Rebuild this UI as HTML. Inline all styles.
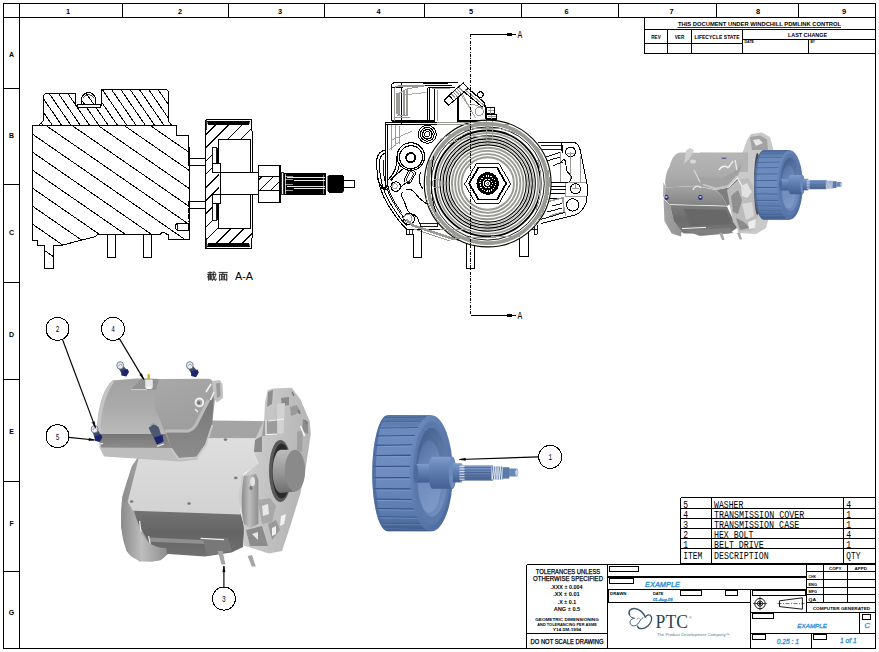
<!DOCTYPE html>
<html><head><meta charset="utf-8"><title>Drawing</title>
<style>html,body{margin:0;padding:0;background:#fff;overflow:hidden}svg{display:block}</style>
</head><body>
<svg width="879" height="652" viewBox="0 0 879 652">
<rect width="879" height="652" fill="#fff"/>
<defs></defs>
<g id="frame" shape-rendering="crispEdges">
<rect x="3.5" y="3.5" width="872" height="645" fill="none" stroke="#000" stroke-width="1" />
<line x1="19.5" y1="3.5" x2="19.5" y2="648.5" stroke="#000" stroke-width="1" />
<line x1="3.5" y1="17.5" x2="875.5" y2="17.5" stroke="#000" stroke-width="1" />
<line x1="122.5" y1="3.5" x2="122.5" y2="17.5" stroke="#000" stroke-width="1" />
<line x1="228.5" y1="3.5" x2="228.5" y2="17.5" stroke="#000" stroke-width="1" />
<line x1="324.5" y1="3.5" x2="324.5" y2="17.5" stroke="#000" stroke-width="1" />
<line x1="424.5" y1="3.5" x2="424.5" y2="17.5" stroke="#000" stroke-width="1" />
<line x1="521.5" y1="3.5" x2="521.5" y2="17.5" stroke="#000" stroke-width="1" />
<line x1="618.5" y1="3.5" x2="618.5" y2="17.5" stroke="#000" stroke-width="1" />
<line x1="716.5" y1="3.5" x2="716.5" y2="17.5" stroke="#000" stroke-width="1" />
<line x1="798.5" y1="3.5" x2="798.5" y2="17.5" stroke="#000" stroke-width="1" />
<line x1="3.5" y1="88.5" x2="19.5" y2="88.5" stroke="#000" stroke-width="1" />
<line x1="3.5" y1="184.5" x2="19.5" y2="184.5" stroke="#000" stroke-width="1" />
<line x1="3.5" y1="282.5" x2="19.5" y2="282.5" stroke="#000" stroke-width="1" />
<line x1="3.5" y1="379.5" x2="19.5" y2="379.5" stroke="#000" stroke-width="1" />
<line x1="3.5" y1="481.5" x2="19.5" y2="481.5" stroke="#000" stroke-width="1" />
<line x1="3.5" y1="571.5" x2="19.5" y2="571.5" stroke="#000" stroke-width="1" />
</g>
<text x="68" y="14.1" font-family="Liberation Sans, sans-serif" font-size="7.4" fill="#000" text-anchor="middle" font-weight="bold" font-style="normal" >1</text>
<text x="180" y="14.1" font-family="Liberation Sans, sans-serif" font-size="7.4" fill="#000" text-anchor="middle" font-weight="bold" font-style="normal" >2</text>
<text x="280" y="14.1" font-family="Liberation Sans, sans-serif" font-size="7.4" fill="#000" text-anchor="middle" font-weight="bold" font-style="normal" >3</text>
<text x="378.5" y="14.1" font-family="Liberation Sans, sans-serif" font-size="7.4" fill="#000" text-anchor="middle" font-weight="bold" font-style="normal" >4</text>
<text x="471" y="14.1" font-family="Liberation Sans, sans-serif" font-size="7.4" fill="#000" text-anchor="middle" font-weight="bold" font-style="normal" >5</text>
<text x="566.5" y="14.1" font-family="Liberation Sans, sans-serif" font-size="7.4" fill="#000" text-anchor="middle" font-weight="bold" font-style="normal" >6</text>
<text x="671.5" y="14.1" font-family="Liberation Sans, sans-serif" font-size="7.4" fill="#000" text-anchor="middle" font-weight="bold" font-style="normal" >7</text>
<text x="758" y="14.1" font-family="Liberation Sans, sans-serif" font-size="7.4" fill="#000" text-anchor="middle" font-weight="bold" font-style="normal" >8</text>
<text x="844" y="14.1" font-family="Liberation Sans, sans-serif" font-size="7.4" fill="#000" text-anchor="middle" font-weight="bold" font-style="normal" >9</text>
<text x="11.6" y="56.6" font-family="Liberation Sans, sans-serif" font-size="7" fill="#000" text-anchor="middle" font-weight="bold" font-style="normal" >A</text>
<text x="11.6" y="138.1" font-family="Liberation Sans, sans-serif" font-size="7" fill="#000" text-anchor="middle" font-weight="bold" font-style="normal" >B</text>
<text x="11.6" y="234.6" font-family="Liberation Sans, sans-serif" font-size="7" fill="#000" text-anchor="middle" font-weight="bold" font-style="normal" >C</text>
<text x="11.6" y="337.1" font-family="Liberation Sans, sans-serif" font-size="7" fill="#000" text-anchor="middle" font-weight="bold" font-style="normal" >D</text>
<text x="11.6" y="433.6" font-family="Liberation Sans, sans-serif" font-size="7" fill="#000" text-anchor="middle" font-weight="bold" font-style="normal" >E</text>
<text x="11.6" y="526.1" font-family="Liberation Sans, sans-serif" font-size="7" fill="#000" text-anchor="middle" font-weight="bold" font-style="normal" >F</text>
<text x="11.6" y="615.1" font-family="Liberation Sans, sans-serif" font-size="7" fill="#000" text-anchor="middle" font-weight="bold" font-style="normal" >G</text>
<g id="revtable" shape-rendering="crispEdges">
<line x1="644.5" y1="17.5" x2="644.5" y2="53.5" stroke="#000" stroke-width="1" />
<line x1="644.5" y1="29.5" x2="875.5" y2="29.5" stroke="#000" stroke-width="1" />
<line x1="644.5" y1="53.5" x2="875.5" y2="53.5" stroke="#000" stroke-width="1" />
<line x1="644.5" y1="43.5" x2="742.5" y2="43.5" stroke="#000" stroke-width="1" />
<line x1="742.5" y1="39.5" x2="875.5" y2="39.5" stroke="#000" stroke-width="1" />
<line x1="667.5" y1="29.5" x2="667.5" y2="53.5" stroke="#000" stroke-width="1" />
<line x1="691.5" y1="29.5" x2="691.5" y2="53.5" stroke="#000" stroke-width="1" />
<line x1="742.5" y1="29.5" x2="742.5" y2="53.5" stroke="#000" stroke-width="1" />
<line x1="808.5" y1="39.5" x2="808.5" y2="53.5" stroke="#000" stroke-width="1" />
</g>
<text x="759.5" y="26.4" font-family="Liberation Sans, sans-serif" font-size="4.6" fill="#000" text-anchor="middle" font-weight="bold" font-style="normal" textLength="163" lengthAdjust="spacingAndGlyphs" >THIS DOCUMENT UNDER WINDCHILL PDMLINK CONTROL</text>
<line x1="677.5" y1="27.5" x2="841" y2="27.5" stroke="#000" stroke-width="0.8" />
<text x="656" y="38.6" font-family="Liberation Sans, sans-serif" font-size="4.6" fill="#000" text-anchor="middle" font-weight="bold" font-style="normal" textLength="9.5" lengthAdjust="spacingAndGlyphs" >REV</text>
<text x="679.5" y="38.6" font-family="Liberation Sans, sans-serif" font-size="4.6" fill="#000" text-anchor="middle" font-weight="bold" font-style="normal" textLength="9.5" lengthAdjust="spacingAndGlyphs" >VER</text>
<text x="717" y="38.6" font-family="Liberation Sans, sans-serif" font-size="4.6" fill="#000" text-anchor="middle" font-weight="bold" font-style="normal" textLength="45" lengthAdjust="spacingAndGlyphs" >LIFECYCLE STATE</text>
<text x="807.5" y="36.6" font-family="Liberation Sans, sans-serif" font-size="4.8" fill="#000" text-anchor="middle" font-weight="bold" font-style="normal" textLength="39" lengthAdjust="spacingAndGlyphs" >LAST CHANGE</text>
<text x="744.5" y="43.2" font-family="Liberation Sans, sans-serif" font-size="3.6" fill="#000" text-anchor="start" font-weight="bold" font-style="normal" textLength="9.5" lengthAdjust="spacingAndGlyphs" >DATE</text>
<text x="810.5" y="43.2" font-family="Liberation Sans, sans-serif" font-size="3.6" fill="#000" text-anchor="start" font-weight="bold" font-style="normal" textLength="4.5" lengthAdjust="spacingAndGlyphs" >BY</text>
<g id="bom" shape-rendering="crispEdges">
<line x1="680.5" y1="497.5" x2="680.5" y2="563.5" stroke="#000" stroke-width="1" />
<line x1="711.5" y1="497.5" x2="711.5" y2="563.5" stroke="#000" stroke-width="1" />
<line x1="843.5" y1="497.5" x2="843.5" y2="563.5" stroke="#000" stroke-width="1" />
<line x1="680.5" y1="497.5" x2="875.5" y2="497.5" stroke="#000" stroke-width="1" />
<line x1="680.5" y1="508.5" x2="875.5" y2="508.5" stroke="#000" stroke-width="1" />
<line x1="680.5" y1="518.5" x2="875.5" y2="518.5" stroke="#000" stroke-width="1" />
<line x1="680.5" y1="528.5" x2="875.5" y2="528.5" stroke="#000" stroke-width="1" />
<line x1="680.5" y1="538.5" x2="875.5" y2="538.5" stroke="#000" stroke-width="1" />
<line x1="680.5" y1="548.5" x2="875.5" y2="548.5" stroke="#000" stroke-width="1" />
<line x1="680.5" y1="563.5" x2="875.5" y2="563.5" stroke="#000" stroke-width="1" />
</g>
<g clip-path="url(#bomclip)">
<text x="683.2" y="508.3" font-family="Liberation Mono, sans-serif" font-size="8.8" fill="#000" text-anchor="start" font-weight="normal" font-style="normal" transform="translate(683.2,508.3) scale(0.92,1.18) translate(-683.2,-508.3)">5</text>
<text x="714" y="508.3" font-family="Liberation Mono, sans-serif" font-size="8.8" fill="#000" text-anchor="start" font-weight="normal" font-style="normal" textLength="31.83" lengthAdjust="spacingAndGlyphs" transform="translate(714,508.3) scale(0.92,1.18) translate(-714,-508.3)">WASHER</text>
<text x="846.3" y="508.3" font-family="Liberation Mono, sans-serif" font-size="8.8" fill="#000" text-anchor="start" font-weight="normal" font-style="normal" transform="translate(846.3,508.3) scale(0.92,1.18) translate(-846.3,-508.3)">4</text>
<text x="683.2" y="518.3" font-family="Liberation Mono, sans-serif" font-size="8.8" fill="#000" text-anchor="start" font-weight="normal" font-style="normal" transform="translate(683.2,518.3) scale(0.92,1.18) translate(-683.2,-518.3)">4</text>
<text x="714" y="518.3" font-family="Liberation Mono, sans-serif" font-size="8.8" fill="#000" text-anchor="start" font-weight="normal" font-style="normal" textLength="98.09" lengthAdjust="spacingAndGlyphs" transform="translate(714,518.3) scale(0.92,1.18) translate(-714,-518.3)">TRANSMISSION_COVER</text>
<text x="846.3" y="518.3" font-family="Liberation Mono, sans-serif" font-size="8.8" fill="#000" text-anchor="start" font-weight="normal" font-style="normal" transform="translate(846.3,518.3) scale(0.92,1.18) translate(-846.3,-518.3)">1</text>
<text x="683.2" y="528.3" font-family="Liberation Mono, sans-serif" font-size="8.8" fill="#000" text-anchor="start" font-weight="normal" font-style="normal" transform="translate(683.2,528.3) scale(0.92,1.18) translate(-683.2,-528.3)">3</text>
<text x="714" y="528.3" font-family="Liberation Mono, sans-serif" font-size="8.8" fill="#000" text-anchor="start" font-weight="normal" font-style="normal" textLength="92.57" lengthAdjust="spacingAndGlyphs" transform="translate(714,528.3) scale(0.92,1.18) translate(-714,-528.3)">TRANSMISSION_CASE</text>
<text x="846.3" y="528.3" font-family="Liberation Mono, sans-serif" font-size="8.8" fill="#000" text-anchor="start" font-weight="normal" font-style="normal" transform="translate(846.3,528.3) scale(0.92,1.18) translate(-846.3,-528.3)">1</text>
<text x="683.2" y="538.3" font-family="Liberation Mono, sans-serif" font-size="8.8" fill="#000" text-anchor="start" font-weight="normal" font-style="normal" transform="translate(683.2,538.3) scale(0.92,1.18) translate(-683.2,-538.3)">2</text>
<text x="714" y="538.3" font-family="Liberation Mono, sans-serif" font-size="8.8" fill="#000" text-anchor="start" font-weight="normal" font-style="normal" textLength="42.87" lengthAdjust="spacingAndGlyphs" transform="translate(714,538.3) scale(0.92,1.18) translate(-714,-538.3)">HEX BOLT</text>
<text x="846.3" y="538.3" font-family="Liberation Mono, sans-serif" font-size="8.8" fill="#000" text-anchor="start" font-weight="normal" font-style="normal" transform="translate(846.3,538.3) scale(0.92,1.18) translate(-846.3,-538.3)">4</text>
<text x="683.2" y="548.3" font-family="Liberation Mono, sans-serif" font-size="8.8" fill="#000" text-anchor="start" font-weight="normal" font-style="normal" transform="translate(683.2,548.3) scale(0.92,1.18) translate(-683.2,-548.3)">1</text>
<text x="714" y="548.3" font-family="Liberation Mono, sans-serif" font-size="8.8" fill="#000" text-anchor="start" font-weight="normal" font-style="normal" textLength="53.91" lengthAdjust="spacingAndGlyphs" transform="translate(714,548.3) scale(0.92,1.18) translate(-714,-548.3)">BELT DRIVE</text>
<text x="846.3" y="548.3" font-family="Liberation Mono, sans-serif" font-size="8.8" fill="#000" text-anchor="start" font-weight="normal" font-style="normal" transform="translate(846.3,548.3) scale(0.92,1.18) translate(-846.3,-548.3)">1</text>
</g>
<text x="683.2" y="559.3" font-family="Liberation Mono, sans-serif" font-size="8.8" fill="#000" text-anchor="start" font-weight="normal" font-style="normal" textLength="20.78" lengthAdjust="spacingAndGlyphs" transform="translate(683.2,559.3) scale(0.92,1.18) translate(-683.2,-559.3)">ITEM</text>
<text x="714" y="559.3" font-family="Liberation Mono, sans-serif" font-size="8.8" fill="#000" text-anchor="start" font-weight="normal" font-style="normal" textLength="59.43" lengthAdjust="spacingAndGlyphs" transform="translate(714,559.3) scale(0.92,1.18) translate(-714,-559.3)">DESCRIPTION</text>
<text x="846.3" y="559.3" font-family="Liberation Mono, sans-serif" font-size="8.8" fill="#000" text-anchor="start" font-weight="normal" font-style="normal" textLength="15.26" lengthAdjust="spacingAndGlyphs" transform="translate(846.3,559.3) scale(0.92,1.18) translate(-846.3,-559.3)">QTY</text>
<g id="titleblock" shape-rendering="crispEdges">
<line x1="526.5" y1="564.5" x2="875.5" y2="564.5" stroke="#000" stroke-width="1" />
<line x1="526.5" y1="564.5" x2="526.5" y2="648.5" stroke="#000" stroke-width="1" />
<line x1="607.5" y1="564.5" x2="607.5" y2="648.5" stroke="#000" stroke-width="1" />
<line x1="526.5" y1="633.5" x2="607.5" y2="633.5" stroke="#000" stroke-width="1" />
<line x1="607.5" y1="577" x2="807" y2="577" stroke="#000" stroke-width="2" />
<line x1="607.5" y1="589.5" x2="807" y2="589.5" stroke="#000" stroke-width="1" />
<line x1="607.5" y1="602.5" x2="750.5" y2="602.5" stroke="#000" stroke-width="1" />
<line x1="607.5" y1="602.3" x2="750.5" y2="602.3" stroke="#000" stroke-width="1.6" />
<line x1="750.5" y1="589.5" x2="750.5" y2="648.5" stroke="#000" stroke-width="1" />
<line x1="806.5" y1="564.5" x2="806.5" y2="612.5" stroke="#000" stroke-width="1" />
<line x1="608" y1="589.5" x2="608" y2="602.5" stroke="#000" stroke-width="2" />
<line x1="750.5" y1="612.5" x2="875.5" y2="612.5" stroke="#000" stroke-width="1" />
<line x1="750.5" y1="633.5" x2="875.5" y2="633.5" stroke="#000" stroke-width="1" />
<line x1="859.5" y1="612.5" x2="859.5" y2="633.5" stroke="#000" stroke-width="1" />
<line x1="811.5" y1="633.5" x2="811.5" y2="648.5" stroke="#000" stroke-width="1" />
<line x1="823.5" y1="564.5" x2="823.5" y2="602.5" stroke="#000" stroke-width="1" />
<line x1="847.5" y1="564.5" x2="847.5" y2="602.5" stroke="#000" stroke-width="1" />
<line x1="806.5" y1="571.5" x2="875.5" y2="571.5" stroke="#000" stroke-width="1" />
<line x1="806.5" y1="579.5" x2="875.5" y2="579.5" stroke="#000" stroke-width="1" />
<line x1="806.5" y1="587.5" x2="875.5" y2="587.5" stroke="#000" stroke-width="1" />
<line x1="806.5" y1="594.5" x2="875.5" y2="594.5" stroke="#000" stroke-width="1" />
<line x1="806.5" y1="602.5" x2="875.5" y2="602.5" stroke="#000" stroke-width="1" />
</g>
<rect x="609.5" y="566.5" width="29" height="5" fill="none" stroke="#000" stroke-width="1" shape-rendering="crispEdges"/>
<rect x="609.5" y="578.5" width="24" height="5" fill="none" stroke="#000" stroke-width="1" shape-rendering="crispEdges"/>
<rect x="680.5" y="590.5" width="21" height="5" fill="none" stroke="#000" stroke-width="1" shape-rendering="crispEdges"/>
<rect x="725.5" y="590.5" width="12" height="5" fill="none" stroke="#000" stroke-width="1" shape-rendering="crispEdges"/>
<rect x="752.5" y="590.5" width="53" height="5" fill="none" stroke="#000" stroke-width="1" shape-rendering="crispEdges"/>
<rect x="752.5" y="613.5" width="21" height="5" fill="none" stroke="#000" stroke-width="1" shape-rendering="crispEdges"/>
<rect x="862.5" y="614.5" width="8" height="5" fill="none" stroke="#000" stroke-width="1" shape-rendering="crispEdges"/>
<rect x="752.5" y="634.5" width="13" height="5" fill="none" stroke="#000" stroke-width="1" shape-rendering="crispEdges"/>
<rect x="813.5" y="634.5" width="13" height="5" fill="none" stroke="#000" stroke-width="1" shape-rendering="crispEdges"/>
<text x="568" y="574.4" font-family="Liberation Sans, sans-serif" font-size="6.9" fill="#000" text-anchor="middle" font-weight="normal" font-style="normal" textLength="64.5" lengthAdjust="spacingAndGlyphs" stroke="#000" stroke-width="0.25">TOLERANCES UNLESS</text>
<text x="568" y="581.2" font-family="Liberation Sans, sans-serif" font-size="6.9" fill="#000" text-anchor="middle" font-weight="normal" font-style="normal" textLength="70" lengthAdjust="spacingAndGlyphs" stroke="#000" stroke-width="0.25">OTHERWISE SPECIFIED</text>
<text x="566.5" y="589.2" font-family="Liberation Sans, sans-serif" font-size="4.6" fill="#000" text-anchor="middle" font-weight="bold" font-style="normal" textLength="32" lengthAdjust="spacingAndGlyphs" >.XXX ± 0.004</text>
<text x="566.5" y="596.4" font-family="Liberation Sans, sans-serif" font-size="4.6" fill="#000" text-anchor="middle" font-weight="bold" font-style="normal" textLength="26.5" lengthAdjust="spacingAndGlyphs" >.XX ± 0.01</text>
<text x="567" y="604" font-family="Liberation Sans, sans-serif" font-size="4.6" fill="#000" text-anchor="middle" font-weight="bold" font-style="normal" textLength="18.5" lengthAdjust="spacingAndGlyphs" >.X ± 0.1</text>
<text x="567" y="611" font-family="Liberation Sans, sans-serif" font-size="4.6" fill="#000" text-anchor="middle" font-weight="bold" font-style="normal" textLength="26.5" lengthAdjust="spacingAndGlyphs" >ANG ± 0.5</text>
<text x="567" y="621" font-family="Liberation Sans, sans-serif" font-size="4.1" fill="#000" text-anchor="middle" font-weight="bold" font-style="normal" textLength="63.5" lengthAdjust="spacingAndGlyphs" >GEOMETRIC DIMENSIONING</text>
<text x="567" y="625.9" font-family="Liberation Sans, sans-serif" font-size="4.1" fill="#000" text-anchor="middle" font-weight="bold" font-style="normal" textLength="59.5" lengthAdjust="spacingAndGlyphs" >AND TOLERANCING PER ASME</text>
<text x="567" y="631" font-family="Liberation Sans, sans-serif" font-size="4.1" fill="#000" text-anchor="middle" font-weight="bold" font-style="normal" textLength="28.5" lengthAdjust="spacingAndGlyphs" >Y14.5M-1994</text>
<text x="567" y="644.1" font-family="Liberation Sans, sans-serif" font-size="6.3" fill="#000" text-anchor="middle" font-weight="normal" font-style="normal" textLength="73" lengthAdjust="spacingAndGlyphs" stroke="#000" stroke-width="0.25">DO NOT SCALE DRAWING</text>
<text x="645" y="586.8" font-family="Liberation Sans, sans-serif" font-size="6.4" fill="#2f8fd8" text-anchor="start" font-weight="normal" font-style="italic" textLength="35" lengthAdjust="spacingAndGlyphs" stroke="#2f8fd8" stroke-width="0.3">EXAMPLE</text>
<text x="610" y="594.6" font-family="Liberation Sans, sans-serif" font-size="3.9" fill="#000" text-anchor="start" font-weight="bold" font-style="normal" textLength="16.5" lengthAdjust="spacingAndGlyphs" >DRAWN</text>
<text x="653" y="594.6" font-family="Liberation Sans, sans-serif" font-size="3.9" fill="#000" text-anchor="start" font-weight="bold" font-style="normal" textLength="10.5" lengthAdjust="spacingAndGlyphs" >DATE</text>
<text x="653" y="601.2" font-family="Liberation Sans, sans-serif" font-size="4.3" fill="#2f8fd8" text-anchor="start" font-weight="normal" font-style="italic" textLength="19.5" lengthAdjust="spacingAndGlyphs" stroke="#2f8fd8" stroke-width="0.3">01-Aug-08</text>
<text x="829" y="569.8" font-family="Liberation Sans, sans-serif" font-size="4.1" fill="#000" text-anchor="start" font-weight="bold" font-style="normal" textLength="12.5" lengthAdjust="spacingAndGlyphs" >COPY</text>
<text x="854.5" y="569.8" font-family="Liberation Sans, sans-serif" font-size="4.1" fill="#000" text-anchor="start" font-weight="bold" font-style="normal" textLength="12.5" lengthAdjust="spacingAndGlyphs" >APPD</text>
<text x="808.5" y="577.8" font-family="Liberation Sans, sans-serif" font-size="3.9" fill="#000" text-anchor="start" font-weight="bold" font-style="normal" textLength="7.5" lengthAdjust="spacingAndGlyphs" >CHK</text>
<text x="808.5" y="585.6" font-family="Liberation Sans, sans-serif" font-size="3.9" fill="#000" text-anchor="start" font-weight="bold" font-style="normal" textLength="8.5" lengthAdjust="spacingAndGlyphs" >ENG</text>
<text x="808.5" y="592.6" font-family="Liberation Sans, sans-serif" font-size="3.9" fill="#000" text-anchor="start" font-weight="bold" font-style="normal" textLength="8.5" lengthAdjust="spacingAndGlyphs" >MFG</text>
<text x="808.5" y="600.6" font-family="Liberation Sans, sans-serif" font-size="3.9" fill="#000" text-anchor="start" font-weight="bold" font-style="normal" textLength="7.5" lengthAdjust="spacingAndGlyphs" >QA</text>
<text x="812.7" y="609.8" font-family="Liberation Sans, sans-serif" font-size="4.1" fill="#000" text-anchor="start" font-weight="bold" font-style="normal" textLength="57.5" lengthAdjust="spacingAndGlyphs" >COMPUTER GENERATED</text>
<text x="797.3" y="627.6" font-family="Liberation Sans, sans-serif" font-size="6.2" fill="#2f8fd8" text-anchor="start" font-weight="normal" font-style="italic" textLength="29.7" lengthAdjust="spacingAndGlyphs" stroke="#2f8fd8" stroke-width="0.3">EXAMPLE</text>
<text x="864.5" y="627.8" font-family="Liberation Sans, sans-serif" font-size="7" fill="#2f8fd8" text-anchor="start" font-weight="normal" font-style="italic" textLength="5.5" lengthAdjust="spacingAndGlyphs" stroke="#2f8fd8" stroke-width="0.3">C</text>
<text x="776.8" y="644" font-family="Liberation Sans, sans-serif" font-size="6.4" fill="#2f8fd8" text-anchor="start" font-weight="normal" font-style="italic" textLength="22.2" lengthAdjust="spacingAndGlyphs" stroke="#2f8fd8" stroke-width="0.3">0.25 : 1</text>
<text x="839.9" y="643" font-family="Liberation Sans, sans-serif" font-size="6.4" fill="#2f8fd8" text-anchor="start" font-weight="normal" font-style="italic" textLength="16.8" lengthAdjust="spacingAndGlyphs" stroke="#2f8fd8" stroke-width="0.3">1 of 1</text>
<circle cx="760" cy="603.6" r="5.2" fill="none" stroke="#000" stroke-width="0.9" />
<circle cx="760" cy="603.6" r="2.6" fill="none" stroke="#000" stroke-width="0.9" />
<circle cx="760" cy="603.6" r="1.1" fill="#000" stroke="#000" stroke-width="0.5" />
<line x1="753" y1="603.6" x2="767" y2="603.6" stroke="#000" stroke-width="0.7" />
<line x1="760" y1="596.6" x2="760" y2="610.4" stroke="#000" stroke-width="0.7" />
<path d="M779.5,600.8 L802.4,597.8 L802.4,609.2 L779.5,606.6 Z" fill="none" stroke="#000" stroke-width="0.9" />
<line x1="777.5" y1="603.6" x2="804.5" y2="603.6" stroke="#000" stroke-width="0.6" stroke-dasharray="4 1.5 1 1.5"/>
<path d="M629.8,615.4 C627.6,611.6 630.4,608.2 634.6,608.4 C639.4,608.8 643.8,613 645.4,617.6" fill="none" stroke="#3a586c" stroke-width="1.5" />
<path d="M645.4,617.6 C646.4,614.6 649.8,613.8 651.2,616.6 C653,620.8 648.4,628 642.2,628.6 C639.6,628.8 637.6,627.4 637.4,625.6" fill="none" stroke="#3a586c" stroke-width="1.3" />
<path d="M629.8,615.4 C630.6,617.4 633,618 634.6,618.2 C631,618.6 629,621.8 630.6,624.4 C632.4,626.8 636.6,626 638.6,623 C640,620.6 641.2,618.6 643.2,617.6" fill="none" stroke="#3a586c" stroke-width="1" />
<path d="M636.8,619 C638.6,617.6 640.8,618.4 640.6,620.4" fill="none" stroke="#7f97a8" stroke-width="0.8" />
<text x="655.6" y="628.3" font-family="Liberation Serif, sans-serif" font-size="19" fill="#2c4454" text-anchor="start" font-weight="normal" font-style="normal" textLength="32.3" lengthAdjust="spacingAndGlyphs" >PTC</text>
<text x="689.2" y="618.8" font-family="Liberation Sans, sans-serif" font-size="3.2" fill="#2c4454" text-anchor="start" font-weight="normal" font-style="normal" >®</text>
<text x="656.9" y="636.2" font-family="Liberation Sans, sans-serif" font-size="3.7" fill="#5a7a92" text-anchor="start" font-weight="normal" font-style="normal" textLength="73" lengthAdjust="spacingAndGlyphs" >The Product Development Company™</text>
<g id="section" stroke-linejoin="miter" shape-rendering="crispEdges">
<clipPath id="hc1"><path d="M81.5,104.5 L81.5,99.6 A7,7 0 0 1 95.5,99.6 L95.5,104.5 Z"/></clipPath>
<g clip-path="url(#hc1)" stroke="#000" stroke-width="1">
<line x1="75.37" y1="91" x2="85.65" y2="106"/>
<line x1="84.67" y1="91" x2="94.95" y2="106"/>
<line x1="93.97" y1="91" x2="104.25" y2="106"/>
</g>
<clipPath id="hc2"><path d="M43.5,120.2 L43.5,97 Q43.5,93.5 47.2,93.5 L75.5,93.5 L75.5,105.5 L101.5,105.5 L101.5,89.5 L164.8,89.5 Q168.5,89.5 168.5,93 L168.5,121.5 L172,125.5 L38.7,125.5 Z"/></clipPath>
<g clip-path="url(#hc2)" stroke="#000" stroke-width="1">
<line x1="17.52" y1="88" x2="44.23" y2="127"/>
<line x1="26.82" y1="88" x2="53.53" y2="127"/>
<line x1="36.12" y1="88" x2="62.83" y2="127"/>
<line x1="45.42" y1="88" x2="72.13" y2="127"/>
<line x1="54.72" y1="88" x2="81.43" y2="127"/>
<line x1="64.02" y1="88" x2="90.73" y2="127"/>
<line x1="73.32" y1="88" x2="100.03" y2="127"/>
<line x1="82.62" y1="88" x2="109.33" y2="127"/>
<line x1="91.92" y1="88" x2="118.63" y2="127"/>
<line x1="101.22" y1="88" x2="127.93" y2="127"/>
<line x1="110.52" y1="88" x2="137.23" y2="127"/>
<line x1="119.82" y1="88" x2="146.53" y2="127"/>
<line x1="129.12" y1="88" x2="155.83" y2="127"/>
<line x1="138.42" y1="88" x2="165.13" y2="127"/>
<line x1="147.72" y1="88" x2="174.43" y2="127"/>
<line x1="157.02" y1="88" x2="183.73" y2="127"/>
<line x1="166.32" y1="88" x2="193.03" y2="127"/>
</g>
<path d="M43.5,120.2 L43.5,97 Q43.5,93.5 47.2,93.5 L75.5,93.5 L75.5,105.5 L101.5,105.5 L101.5,89.5 L164.8,89.5 Q168.5,89.5 168.5,93 L168.5,121.5 L172,125.5 L38.7,125.5 Z" fill="none" stroke="#000" stroke-width="1" />
<path d="M81.5,104.5 L81.5,99.6 A7,7 0 0 1 95.5,99.6 L95.5,104.5" fill="none" stroke="#000" stroke-width="1" />
<path d="M83.6,98 A5.4,5.4 0 0 1 93.6,98" fill="none" stroke="#000" stroke-width="0.7" />
<rect x="77" y="104.6" width="23.6" height="2.6" fill="#fff" stroke="#000" stroke-width="1" />
<clipPath id="hc3"><path d="M32.5,125.5 L176.5,125.5 L176.5,135.5 L188.5,135.5 L188.5,147.5 L189.5,147.5 L189.5,239.5 L168.5,239.5 L168.5,234 L166.5,234 Q163.5,230.6 160.5,234 L159,234.5 L97.3,234.5 L95.8,236.5 L60.8,245.5 L53.5,245.5 L53.5,268.5 L44.5,268.5 L44.5,245.5 L37,245.5 L37,240.5 L32.5,240.5 Z"/></clipPath>
<g clip-path="url(#hc3)" stroke="#000" stroke-width="1">
<line x1="-164.57" y1="124" x2="46.72" y2="270"/>
<line x1="-138.52" y1="124" x2="72.77" y2="270"/>
<line x1="-112.47" y1="124" x2="98.82" y2="270"/>
<line x1="-86.42" y1="124" x2="124.87" y2="270"/>
<line x1="-60.37" y1="124" x2="150.92" y2="270"/>
<line x1="-34.32" y1="124" x2="176.97" y2="270"/>
<line x1="-8.27" y1="124" x2="203.02" y2="270"/>
<line x1="17.78" y1="124" x2="229.07" y2="270"/>
<line x1="43.83" y1="124" x2="255.12" y2="270"/>
<line x1="69.88" y1="124" x2="281.17" y2="270"/>
<line x1="95.93" y1="124" x2="307.22" y2="270"/>
<line x1="121.98" y1="124" x2="333.27" y2="270"/>
<line x1="148.03" y1="124" x2="359.32" y2="270"/>
<line x1="174.08" y1="124" x2="385.37" y2="270"/>
</g>
<path d="M32.5,125.5 L176.5,125.5 L176.5,135.5 L188.5,135.5 L188.5,147.5 L189.5,147.5 L189.5,239.5 L168.5,239.5 L168.5,234 L166.5,234 Q163.5,230.6 160.5,234 L159,234.5 L97.3,234.5 L95.8,236.5 L60.8,245.5 L53.5,245.5 L53.5,268.5 L44.5,268.5 L44.5,245.5 L37,245.5 L37,240.5 L32.5,240.5 Z" fill="none" stroke="#000" stroke-width="1" />
<rect x="189.5" y="158.5" width="16" height="7" fill="#fff" stroke="none" stroke-width="1" />
<rect x="189.5" y="201.5" width="16" height="7" fill="#fff" stroke="none" stroke-width="1" />
<line x1="188" y1="158.5" x2="205.5" y2="158.5" stroke="#000" stroke-width="1" />
<line x1="189.5" y1="165.5" x2="205.5" y2="165.5" stroke="#000" stroke-width="1" />
<line x1="187.5" y1="201.5" x2="205.5" y2="201.5" stroke="#000" stroke-width="1" />
<line x1="189.5" y1="208.5" x2="205.5" y2="208.5" stroke="#000" stroke-width="1" />
<line x1="189.2" y1="148" x2="189.2" y2="166" stroke="#000" stroke-width="1.7" />
<line x1="189.2" y1="201" x2="189.2" y2="222" stroke="#000" stroke-width="1.7" stroke-dasharray="5 1.5"/>
<path d="M188.5,223.5 L177.5,223.5 Q175.5,223.5 175.5,226.8 Q175.5,230.2 177.5,230.2 L188.5,230.2 Z" fill="#fff" stroke="#000" stroke-width="1" />
<line x1="177.5" y1="224" x2="177.5" y2="230" stroke="#000" stroke-width="0.9" />
<path d="M107.5,234.5 L107.5,257.5 L115.5,257.5 L115.5,234.5" fill="#fff" stroke="#000" stroke-width="1" />
<path d="M143.5,234.5 L143.5,257.5 L151.5,257.5 L151.5,234.5" fill="#fff" stroke="#000" stroke-width="1" />
<clipPath id="hc4"><path d="M205.5,124.8 L251.5,124.8 L251.5,130 L252,130 L252,139.5 L218.5,139.5 L218.5,147.5 L212.5,147.5 L212.5,172.5 L220.5,172.5 L220.5,194.5 L212.5,194.5 L212.5,220 L218.5,220 L218.5,228.5 L252,228.5 L252,243.4 L205.5,243.4 Z"/></clipPath>
<g clip-path="url(#hc4)" stroke="#000" stroke-width="1">
<line x1="209.3" y1="118" x2="77.3" y2="250"/>
<line x1="222.5" y1="118" x2="90.5" y2="250"/>
<line x1="235.7" y1="118" x2="103.7" y2="250"/>
<line x1="248.9" y1="118" x2="116.9" y2="250"/>
<line x1="262.1" y1="118" x2="130.1" y2="250"/>
<line x1="275.3" y1="118" x2="143.3" y2="250"/>
<line x1="288.5" y1="118" x2="156.5" y2="250"/>
<line x1="301.7" y1="118" x2="169.7" y2="250"/>
<line x1="314.9" y1="118" x2="182.9" y2="250"/>
<line x1="328.1" y1="118" x2="196.1" y2="250"/>
<line x1="341.3" y1="118" x2="209.3" y2="250"/>
<line x1="354.5" y1="118" x2="222.5" y2="250"/>
<line x1="367.7" y1="118" x2="235.7" y2="250"/>
<line x1="380.9" y1="118" x2="248.9" y2="250"/>
</g>
<path d="M205.5,119.5 L205.5,248.5" fill="none" stroke="#000" stroke-width="1" />
<path d="M205.5,119.5 L251.5,119.5 L251.5,130.5 M252,130.5 L252,237.5 M251.5,237.5 L251.5,248.5 L205.5,248.5" fill="none" stroke="#000" stroke-width="1" />
<path d="M207,121 L250,121 L248.5,124.8 L208.5,124.8 Z" fill="#000" stroke="#000" stroke-width="0.5" />
<path d="M207,246.6 L250,246.6 L248.5,243.4 L208.5,243.4 Z" fill="#000" stroke="#000" stroke-width="0.5" />
<line x1="206.5" y1="119.5" x2="206.5" y2="130" stroke="#000" stroke-width="0.8" />
<line x1="206.5" y1="238" x2="206.5" y2="248.5" stroke="#000" stroke-width="0.8" />
<path d="M218.5,147.5 L218.5,139.5 L250.2,139.5 L250.2,228.5 L218.5,228.5 L218.5,220" fill="#fff" stroke="#000" stroke-width="1" />
<line x1="218.5" y1="139.5" x2="218.5" y2="172.5" stroke="#000" stroke-width="1" />
<line x1="218.5" y1="194.5" x2="218.5" y2="228.5" stroke="#000" stroke-width="1" />
<line x1="250.5" y1="139.5" x2="250.5" y2="228.5" stroke="#000" stroke-width="1" />
<rect x="212.5" y="147.5" width="3.5" height="16" fill="#fff" stroke="#000" stroke-width="0.9" />
<rect x="212.5" y="203.5" width="3.5" height="16.5" fill="#fff" stroke="#000" stroke-width="0.9" />
<line x1="217.4" y1="147.5" x2="217.4" y2="163.5" stroke="#000" stroke-width="1.4" />
<line x1="217.4" y1="203.5" x2="217.4" y2="220" stroke="#000" stroke-width="1.4" />
<rect x="212.5" y="163.5" width="8" height="9" fill="#fff" stroke="#000" stroke-width="1" />
<rect x="212.5" y="194.5" width="8" height="9" fill="#fff" stroke="#000" stroke-width="1" />
<rect x="220.5" y="172.5" width="37.5" height="22" fill="#fff" stroke="#000" stroke-width="1" />
<rect x="258" y="165.5" width="22" height="37" fill="#fff" stroke="#000" stroke-width="1" />
<clipPath id="hc5"><path d="M258,176.5 L280,176.5 L280,190.7 L258,190.7 Z"/></clipPath>
<g clip-path="url(#hc5)" stroke="#000" stroke-width="1">
<line x1="262.6" y1="176" x2="247.6" y2="191"/>
<line x1="273.9" y1="176" x2="258.9" y2="191"/>
<line x1="285.2" y1="176" x2="270.2" y2="191"/>
<line x1="296.5" y1="176" x2="281.5" y2="191"/>
</g>
<line x1="258" y1="176.5" x2="280" y2="176.5" stroke="#000" stroke-width="1" />
<line x1="258" y1="190.7" x2="280" y2="190.7" stroke="#000" stroke-width="1" />
<line x1="280" y1="166" x2="280" y2="202.5" stroke="#000" stroke-width="2" />
<rect x="281" y="172.5" width="2.8" height="21.5" fill="#fff" stroke="#000" stroke-width="0.8" />
<rect x="284.4" y="173.2" width="41.3" height="21.4" fill="#000" stroke="#000" stroke-width="0.6" />
<line x1="286.5" y1="177.6" x2="324.5" y2="177.6" stroke="#fff" stroke-width="0.9" />
<line x1="293.5" y1="180.7" x2="324.5" y2="180.7" stroke="#fff" stroke-width="0.9" />
<line x1="286.5" y1="186" x2="324.5" y2="186" stroke="#fff" stroke-width="0.9" />
<line x1="293.5" y1="188.6" x2="324.5" y2="188.6" stroke="#fff" stroke-width="0.9" />
<line x1="285.4" y1="176.2" x2="292.5" y2="176.2" stroke="#fff" stroke-width="0.6" />
<line x1="285.4" y1="179.3" x2="292.5" y2="179.3" stroke="#fff" stroke-width="0.6" />
<line x1="285.4" y1="184.6" x2="292.5" y2="184.6" stroke="#fff" stroke-width="0.6" />
<line x1="285.4" y1="190.2" x2="292.5" y2="190.2" stroke="#fff" stroke-width="0.6" />
<line x1="285.6" y1="174" x2="285.6" y2="194" stroke="#fff" stroke-width="0.7" />
<line x1="323.7" y1="174.5" x2="323.7" y2="193.5" stroke="#fff" stroke-width="0.5" />
<path d="M327.6,176.5 L329,175 L342.5,175 L343.9,176.5 L343.9,191 L342.5,192.5 L329,192.5 L327.6,191 Z" fill="#000" stroke="#000" stroke-width="0.5" />
<rect x="343.9" y="180.2" width="10.6" height="7" fill="#fff" stroke="#000" stroke-width="1" />
</g>
<path transform="translate(206.8,279.9) scale(0.01,-0.01)" d="M726 786C785 743 851 681 882 639L917 668C885 709 818 769 759 810ZM845 466C817 368 776 272 722 186C697 278 679 398 668 539H944V582H665C660 660 658 744 658 833H610C611 746 613 661 618 582H345V687H542V731H345V833H298V731H98V687H298V582H55V539H621C633 378 655 239 689 136C637 64 576 2 507 -44C520 -52 534 -66 543 -77C605 -34 660 20 708 83C746 -10 797 -63 863 -63C925 -63 944 -16 954 131C941 135 923 145 913 155C908 32 896 -15 866 -15C816 -15 774 36 741 129C805 225 855 337 889 452ZM356 256V172H190V256ZM321 507C341 479 362 442 373 414H204C222 445 238 478 252 510L209 521C173 431 113 343 48 282C59 277 78 262 85 255C105 275 125 299 145 325V-52H190V7H564V50H399V134H544V172H399V256H544V293H399V372H563V414H400L418 422C406 450 382 491 357 522ZM356 293H190V372H356ZM356 134V50H190V134Z" fill="#000" stroke="#000" stroke-width="34"/>
<path transform="translate(218.2,279.9) scale(0.01,-0.01)" d="M372 345H619V210H372ZM372 387V523H619V387ZM372 168H619V26H372ZM63 763V716H462C453 669 438 612 424 569H111V-75H158V-21H840V-75H889V569H473C488 613 504 667 519 716H940V763ZM158 26V523H327V26ZM840 26H665V523H840Z" fill="#000" stroke="#000" stroke-width="34"/>
<text x="235" y="280.2" font-family="Liberation Sans, sans-serif" font-size="10.4" fill="#000" text-anchor="start" font-weight="normal" font-style="normal" textLength="18" lengthAdjust="spacingAndGlyphs" >A-A</text>
<g id="front" fill="none" stroke-linecap="butt" shape-rendering="crispEdges">
<path d="M391.5,121 L391.5,86 Q391.5,82.8 395,82.8 L458,82.8" fill="none" stroke="#000" stroke-width="1.1" />
<path d="M391.5,121.2 L434.5,121.2 M457,121 L486,121" fill="none" stroke="#000" stroke-width="1.6" />
<path d="M385.5,122 L437,122 M385.5,124.6 L470,124.6" fill="none" stroke="#000" stroke-width="1" />
<line x1="401.8" y1="82.8" x2="401.8" y2="124.6" stroke="#000" stroke-width="1" />
<line x1="391.5" y1="87.7" x2="403" y2="87.7" stroke="#000" stroke-width="1" />
<line x1="423" y1="83.6" x2="448" y2="83.6" stroke="#000" stroke-width="1.2" />
<line x1="425" y1="85.3" x2="452" y2="85.3" stroke="#000" stroke-width="1.3" />
<line x1="428" y1="87.2" x2="455" y2="87.2" stroke="#000" stroke-width="1.4" />
<line x1="432" y1="88.8" x2="450" y2="88.8" stroke="#9a9a94" stroke-width="1" />
<line x1="427.4" y1="88" x2="427.4" y2="121" stroke="#000" stroke-width="1" />
<line x1="429.6" y1="88" x2="429.6" y2="121" stroke="#000" stroke-width="1.2" />
<line x1="434.3" y1="89" x2="434.3" y2="121" stroke="#000" stroke-width="1.1" />
<line x1="458.3" y1="97" x2="458.3" y2="122.5" stroke="#000" stroke-width="1.8" />
<line x1="437.5" y1="89.5" x2="437.5" y2="121" stroke="#9a9a94" stroke-width="1" />
<path d="M394.5,121 L394.5,90 Q394.5,86 399,86 L424,86" fill="none" stroke="#9a9a94" stroke-width="1.2" />
<path d="M396.6,114 L396.6,93 M399.4,115 L399.4,93 M404,116 L404,91 M407.3,116 L407.3,89" fill="none" stroke="#9a9a94" stroke-width="1.9" />
<path d="M397,115.5 L407.3,115.5 M395,117.5 L410,117.5" fill="none" stroke="#9a9a94" stroke-width="1.1" />
<path d="M407.3,89 L425,85.6 M399.6,93 L407.3,89" fill="none" stroke="#9a9a94" stroke-width="1" />
<path d="M403,95 L426,92.5" fill="none" stroke="#9a9a94" stroke-width="0.8" />
<g transform="translate(2.4,1) rotate(-41 455 92)">
<rect x="447" y="88.2" width="19" height="7.4" fill="#fff" stroke="#000" stroke-width="1" />
<line x1="450" y1="88.6" x2="450" y2="95.2" stroke="#9a9a94" stroke-width="1.1" />
<line x1="452.5" y1="88.6" x2="452.5" y2="95.2" stroke="#9a9a94" stroke-width="1.1" />
<line x1="455" y1="88.6" x2="455" y2="95.2" stroke="#9a9a94" stroke-width="1.1" />
<line x1="457.5" y1="88.6" x2="457.5" y2="95.2" stroke="#9a9a94" stroke-width="1.1" />
<line x1="460" y1="88.6" x2="460" y2="95.2" stroke="#9a9a94" stroke-width="1.1" />
<rect x="440.2" y="88.6" width="6.8" height="6.8" fill="#fff" stroke="#000" stroke-width="1.2" />
</g>
<path d="M467,87.3 L484.9,103.2 L485.6,119" fill="none" stroke="#000" stroke-width="1.1" />
<path d="M463.5,91.5 L483,107.5" fill="none" stroke="#000" stroke-width="1.1" />
<path d="M465,89.5 L484,105.5" fill="none" stroke="#9a9a94" stroke-width="1.2" />
<path d="M461,95 L470,108 L470,119 M462.5,93.5 L476,118" fill="none" stroke="#9a9a94" stroke-width="0.9" />
<circle cx="480.3" cy="94.7" r="2.9" fill="#fff" stroke="#000" stroke-width="1" />
<circle cx="479.3" cy="111.6" r="4" fill="none" stroke="#9a9a94" stroke-width="1" />
<path d="M470.5,104 L483,108" fill="none" stroke="#9a9a94" stroke-width="0.9" />
<rect x="486.2" y="107.6" width="8.4" height="6.6" fill="#fff" stroke="#000" stroke-width="1.5" />
<rect x="486.2" y="114.4" width="10" height="4.6" fill="#fff" stroke="#000" stroke-width="1.3" />
<line x1="487.5" y1="110.6" x2="493.5" y2="110.6" stroke="#9a9a94" stroke-width="1.2" />
<line x1="490.4" y1="108.4" x2="490.4" y2="113.6" stroke="#9a9a94" stroke-width="0.9" />
<line x1="488" y1="116.6" x2="495.5" y2="116.6" stroke="#9a9a94" stroke-width="1.1" />
<line x1="491.5" y1="115" x2="491.5" y2="118.5" stroke="#9a9a94" stroke-width="0.9" />
<path d="M385.6,122 L385.6,187.5" fill="none" stroke="#000" stroke-width="1.1" />
<path d="M387.6,124.6 L387.6,187" fill="none" stroke="#000" stroke-width="1" />
<path d="M391.8,124.6 L391.8,150" fill="none" stroke="#9a9a94" stroke-width="1.1" />
<path d="M395.6,124.6 L395.6,146 M399.6,126 L399.6,144" fill="none" stroke="#9a9a94" stroke-width="1" />
<path d="M391.8,140 L412,131 M389,150 L400,141" fill="none" stroke="#9a9a94" stroke-width="0.9" />
<path d="M385.6,150 C379,151 376.2,157 376.6,165 C377,178 380,192 388,205 C393,213 399,222 406.5,229" fill="none" stroke="#000" stroke-width="1" />
<path d="M385.6,153 C381.4,154 379,159 379.3,166 C379.8,178 382.6,190.5 390,203 C395,211 400,219 406.6,226" fill="none" stroke="#000" stroke-width="1" />
<path d="M384,160 C382,168 384,184 391,198 C395.6,207 400.6,214 406,220.5" fill="none" stroke="#000" stroke-width="0.9" />
<path d="M388,186 C389,192 394.4,203.4 402,213" fill="none" stroke="#000" stroke-width="0.9" />
<path d="M381.2,187.5 L386.6,189.8" fill="none" stroke="#000" stroke-width="2" />
<path d="M377.5,178.5 C378.6,183 381,186.6 385.6,188.4" fill="none" stroke="#000" stroke-width="1.2" />
<circle cx="427.3" cy="134.3" r="9" fill="none" stroke="#000" stroke-width="1" />
<circle cx="427.3" cy="134.3" r="6.9" fill="none" stroke="#000" stroke-width="1" />
<circle cx="427.3" cy="134.3" r="4.8" fill="none" stroke="#000" stroke-width="1.2" />
<circle cx="427.3" cy="134.3" r="2.7" fill="none" stroke="#000" stroke-width="0.9" />
<circle cx="410.8" cy="156.6" r="13.8" fill="none" stroke="#000" stroke-width="1.1" />
<circle cx="411" cy="157.2" r="11.5" fill="none" stroke="#000" stroke-width="1.2" />
<circle cx="410.8" cy="157.6" r="4.6" fill="none" stroke="#000" stroke-width="1.8" />
<path d="M397,157 C397.4,170 392,176 388.4,179.6" fill="none" stroke="#000" stroke-width="1" />
<path d="M399.6,163 C399,171 395,176.4 391,180.6" fill="none" stroke="#000" stroke-width="1" />
<path d="M390.4,180 C394,176 398,174 402.6,169" fill="none" stroke="#000" stroke-width="1" />
<path d="M401.6,186.6 C404,184 406,182 410,182" fill="none" stroke="#000" stroke-width="1" />
<g transform="rotate(-62 409.5 176.5)">
<rect x="402.4" y="173.2" width="14" height="7.2" fill="none" stroke="#000" stroke-width="1" rx="2.6"/>
<rect x="404" y="174.8" width="10.8" height="4" fill="none" stroke="#000" stroke-width="0.8" rx="1.6"/>
</g>
<circle cx="395.7" cy="186.6" r="4.8" fill="none" stroke="#000" stroke-width="1" />
<circle cx="394.8" cy="186.2" r="2.6" fill="none" stroke="#9a9a94" stroke-width="0.9" />
<path d="M403,192 C400,194 402,198 404,201 C407,207 406,212 411,213.6 C416.6,215 419,219 419.4,224" fill="none" stroke="#000" stroke-width="1" />
<path d="M406,190 C411,187.6 414,191 416.6,195 C419.6,199.6 423,200.6 426.6,204" fill="none" stroke="#000" stroke-width="1" />
<path d="M421,172 C418,176 418.4,184 423,189 " fill="none" stroke="#000" stroke-width="1" />
<circle cx="408.8" cy="219" r="5.6" fill="none" stroke="#000" stroke-width="1" />
<circle cx="407.8" cy="218.4" r="4" fill="none" stroke="#9a9a94" stroke-width="1" />
<path d="M406.5,229 L406.5,234.4 L414.4,234.4" fill="none" stroke="#000" stroke-width="1" />
<path d="M406.5,229.4 L440,229.4" fill="none" stroke="#000" stroke-width="1" />
<path d="M409.6,229.4 L409.6,234.4 M412,229.4 L412,234.4" fill="none" stroke="#000" stroke-width="0.8" />
<rect x="420" y="223" width="17" height="3.4" fill="#fff" stroke="#000" stroke-width="0.9" />
<path d="M406.5,219.5 L413,225.6 L452,238.6 L468,241" fill="none" stroke="#9a9a94" stroke-width="2.4" />
<path d="M414,229 L450,241" fill="none" stroke="#9a9a94" stroke-width="1.2" />
<path d="M538,142.4 L574.5,142.4 Q578.6,144 580,149.4 L587.6,187 Q588,192 586,203 Q583,211 576.5,214.6 L541,223.4" fill="none" stroke="#000" stroke-width="1" />
<path d="M541,145.4 L562,145.4 L562,151 M541.5,149 L560.5,149" fill="none" stroke="#000" stroke-width="0.9" />
<path d="M561.4,143 L562.6,152.6" fill="none" stroke="#000" stroke-width="1.8" />
<path d="M545,157.4 L560,152.4 M547,161 L561,156.6" fill="none" stroke="#000" stroke-width="0.9" />
<circle cx="570.6" cy="151.9" r="4.9" fill="none" stroke="#000" stroke-width="1" />
<line x1="570.6" y1="151.9" x2="570.6" y2="181" stroke="#9a9a94" stroke-width="1.2" />
<line x1="566.6" y1="153" x2="574.6" y2="153" stroke="#9a9a94" stroke-width="1" />
<path d="M560.6,152 L560.6,182 M580.6,156 L580.6,183" fill="none" stroke="#9a9a94" stroke-width="1.2" />
<path d="M563.6,159.4 C566.6,160 566,164 566,167 C566,172 569.6,174 571,176 C572,178.6 570,181.6 567.6,183" fill="none" stroke="#000" stroke-width="1" />
<path d="M560.6,162.4 L563.6,159.4" fill="none" stroke="#000" stroke-width="1" />
<path d="M553,165.6 L563,162" fill="none" stroke="#000" stroke-width="0.9" />
<path d="M560.6,182.6 L586,182.6" fill="none" stroke="#9a9a94" stroke-width="1.6" />
<circle cx="575.5" cy="188.8" r="5" fill="none" stroke="#000" stroke-width="1" />
<line x1="575.5" y1="184" x2="575.5" y2="189" stroke="#9a9a94" stroke-width="1" />
<line x1="572" y1="188.8" x2="579" y2="188.8" stroke="#9a9a94" stroke-width="1" />
<circle cx="572.7" cy="204.9" r="6.2" fill="none" stroke="#000" stroke-width="1" />
<path d="M565.6,183 L565.6,196 L586,196" fill="none" stroke="#9a9a94" stroke-width="1" />
<line x1="549.5" y1="182.4" x2="567.5" y2="182.4" stroke="#000" stroke-width="1" />
<line x1="549.5" y1="186.5" x2="566" y2="186.5" stroke="#000" stroke-width="1" />
<line x1="549.5" y1="189.9" x2="566" y2="189.9" stroke="#000" stroke-width="1" />
<line x1="549.5" y1="193.9" x2="565" y2="193.9" stroke="#000" stroke-width="1" />
<line x1="549.5" y1="198" x2="563" y2="198" stroke="#000" stroke-width="1" />
<path d="M549,201.4 L563.5,197.6 L563.5,212 L549.6,215.8" fill="none" stroke="#9a9a94" stroke-width="1.4" />
<path d="M552,206 L562,203.6 M547,212 L562,208" fill="none" stroke="#000" stroke-width="0.9" />
<path d="M562,198 L566,216" fill="none" stroke="#9a9a94" stroke-width="0.9" />
<path d="M541,219.4 L565,212.4" fill="none" stroke="#000" stroke-width="0.9" />
<path d="M413.5,234.4 L413.5,257 L421,257 L421,230" fill="none" stroke="#000" stroke-width="1" />
<path d="M466,244 L466,268 L474.6,268 L474.6,246" fill="none" stroke="#000" stroke-width="1" />
<path d="M519.6,229.6 L519.6,256.6 L528.8,256.6 L528.8,229.6" fill="none" stroke="#000" stroke-width="1" />
<path d="M534,226 L534,234 L537.4,234 L537.4,225" fill="none" stroke="#000" stroke-width="0.9" />
<path d="M519.6,229.6 L537,229.6" fill="none" stroke="#000" stroke-width="0.9" />
<g shape-rendering="geometricPrecision">
<circle cx="487.7" cy="183.5" r="63.4" fill="#fff" stroke="#000" stroke-width="1.1" />
<circle cx="487.7" cy="183.5" r="59.6" fill="none" stroke="#9a9a94" stroke-width="3.6" />
<circle cx="487.7" cy="183.5" r="56.6" fill="none" stroke="#000" stroke-width="0.9" />
<circle cx="487.7" cy="183.5" r="53" fill="none" stroke="#000" stroke-width="1.8" />
<circle cx="487.7" cy="183.5" r="50.4" fill="none" stroke="#9a9a94" stroke-width="1.8" />
<circle cx="487.7" cy="183.5" r="47.6" fill="none" stroke="#000" stroke-width="1.1" />
<circle cx="487.7" cy="183.5" r="44.6" fill="none" stroke="#000" stroke-width="1.1" />
<circle cx="487.7" cy="183.5" r="41.6" fill="none" stroke="#000" stroke-width="1.1" />
<circle cx="487.7" cy="183.5" r="38.6" fill="none" stroke="#000" stroke-width="1.1" />
<circle cx="487.7" cy="183.5" r="46.1" fill="none" stroke="#9a9a94" stroke-width="0.8" />
<circle cx="487.7" cy="183.5" r="43.1" fill="none" stroke="#9a9a94" stroke-width="0.8" />
<circle cx="487.7" cy="183.5" r="40.1" fill="none" stroke="#9a9a94" stroke-width="0.8" />
<circle cx="487.7" cy="183.5" r="35.8" fill="none" stroke="#9a9a94" stroke-width="1.9" />
<circle cx="487.7" cy="183.5" r="32.6" fill="none" stroke="#9a9a94" stroke-width="1.9" />
<circle cx="487.7" cy="183.5" r="29.4" fill="none" stroke="#9a9a94" stroke-width="1.9" />
<circle cx="487.7" cy="183.5" r="26.2" fill="none" stroke="#9a9a94" stroke-width="1.9" />
</g>
<line x1="492" y1="121" x2="492" y2="140" stroke="#9a9a94" stroke-width="0.9" />
<line x1="486.4" y1="121" x2="486.4" y2="140" stroke="#9a9a94" stroke-width="0.9" />
<path d="M449,137 L470,127.4 M452,141 L471,131" fill="none" stroke="#9a9a94" stroke-width="0.8" />
<line x1="437" y1="124.6" x2="510" y2="124.6" stroke="#9a9a94" stroke-width="1" />
<line x1="437" y1="122" x2="486" y2="122" stroke="#9a9a94" stroke-width="1" />
<path d="M440,140 C452,132 470,128 488,128 C510,128 528,136 540,150" fill="none" stroke="#9a9a94" stroke-width="1" />
<path d="M426,196 C430,214 442,230 458,238" fill="none" stroke="#9a9a94" stroke-width="1" />
<path d="M548,170 C552,190 546,212 534,226" fill="none" stroke="#9a9a94" stroke-width="1" />
<path d="M430,160 C426,172 426,196 432,208" fill="none" stroke="#9a9a94" stroke-width="1.6" />
<path d="M434,156 C430,170 430,198 436,212" fill="none" stroke="#000" stroke-width="0.9" />
<path d="M438,150 C452,140 470,136 488,136" fill="none" stroke="#9a9a94" stroke-width="0.9" />
<circle cx="436.6" cy="183.5" r="4.2" fill="none" stroke="#9a9a94" stroke-width="1" />
<path d="M440,229.4 L470,229.4 M452,238.6 L520,236" fill="none" stroke="#9a9a94" stroke-width="1.2" />
<path d="M538,160 C542,175 542,195 536,210" fill="none" stroke="#9a9a94" stroke-width="1.2" />
<polygon points="510.5,183.5 499.1,203.25 476.3,203.25 464.9,183.5 476.3,163.75 499.1,163.75" fill="#fff" stroke="#000" stroke-width="0.9" />
<polygon points="506.2,183.5 496.95,199.52 478.45,199.52 469.2,183.5 478.45,167.48 496.95,167.48" fill="none" stroke="#000" stroke-width="1.7" />
<circle cx="487.7" cy="183.5" r="9.8" fill="#000" stroke="#000" stroke-width="2.8" />
<circle cx="487.7" cy="183.5" r="7.6" fill="none" stroke="#fff" stroke-width="1.4" stroke-dasharray="1.1 1.3"/>
<circle cx="487.7" cy="183.5" r="5.4" fill="#fff" stroke="#000" stroke-width="1" />
<circle cx="487.7" cy="183.5" r="3.3" fill="#fff" stroke="#000" stroke-width="1.5" />
<circle cx="487.7" cy="183.5" r="1.3" fill="#fff" stroke="#000" stroke-width="0.6" />
</g>
<g shape-rendering="crispEdges">
<line x1="470.5" y1="34" x2="470.5" y2="316" stroke="#000" stroke-width="1" stroke-dasharray="3.2 1.2 1 1.2"/>
<line x1="470.5" y1="34.5" x2="515.5" y2="34.5" stroke="#000" stroke-width="1" />
<line x1="470.5" y1="315.5" x2="515.5" y2="315.5" stroke="#000" stroke-width="1" />
<line x1="507" y1="34.5" x2="512.2" y2="34.5" stroke="#000" stroke-width="3" />
<line x1="507" y1="315.5" x2="512.2" y2="315.5" stroke="#000" stroke-width="3" />
</g>
<text x="517.6" y="37.7" font-family="Liberation Mono, sans-serif" font-size="8.4" fill="#000" text-anchor="start" font-weight="normal" font-style="normal" transform="translate(517.6,37.7) scale(0.95,1.22) translate(-517.6,-37.7)">A</text>
<text x="517.6" y="318.7" font-family="Liberation Mono, sans-serif" font-size="8.4" fill="#000" text-anchor="start" font-weight="normal" font-style="normal" transform="translate(517.6,318.7) scale(0.95,1.22) translate(-517.6,-318.7)">A</text>
<g id="pulley3d">
<g transform="translate(0,0) scale(1)">
<defs>
<linearGradient id="pab" x1="0" y1="0" x2="0" y2="1"><stop offset="0" stop-color="#4d6a9b"/><stop offset="0.12" stop-color="#6a89bc"/><stop offset="0.5" stop-color="#6f8dc0"/><stop offset="0.85" stop-color="#5b7aad"/><stop offset="1" stop-color="#415d8e"/></linearGradient>
<linearGradient id="par" x1="0" y1="0" x2="1" y2="1"><stop offset="0" stop-color="#6f8fc2"/><stop offset="0.5" stop-color="#5c7bad"/><stop offset="1" stop-color="#48659a"/></linearGradient>
<linearGradient id="pai" x1="0" y1="0" x2="0.6" y2="1"><stop offset="0" stop-color="#3f5a8c"/><stop offset="0.45" stop-color="#56739f"/><stop offset="1" stop-color="#6f8dbd"/></linearGradient>
<linearGradient id="paf" x1="0" y1="0" x2="0.3" y2="1"><stop offset="0" stop-color="#506d9f"/><stop offset="0.5" stop-color="#6c8abb"/><stop offset="1" stop-color="#7b98c6"/></linearGradient>
<linearGradient id="pah" x1="0" y1="0" x2="0" y2="1"><stop offset="0" stop-color="#7d9ccc"/><stop offset="0.35" stop-color="#6583b5"/><stop offset="1" stop-color="#435f93"/></linearGradient>
<linearGradient id="pas" x1="0" y1="0" x2="0" y2="1"><stop offset="0" stop-color="#8aa6d0"/><stop offset="0.4" stop-color="#6a86b4"/><stop offset="1" stop-color="#4a6595"/></linearGradient>
<clipPath id="pac"><path d="M387.8,415.3 L431.2,415.3 L431.2,531.3 L387.8,531.3 A15.6,58 0 0 1 387.8,415.3 Z"/></clipPath>
</defs>
<path d="M387.8,415.3 L431.2,415.3 L431.2,531.3 L387.8,531.3 A15.6,58 0 0 1 387.8,415.3 Z" fill="url(#pab)" stroke="none" stroke-width="1" />
<g clip-path="url(#pac)">
<line x1="387.2" y1="415.61" x2="429.89" y2="415.13" stroke="#3a5585" stroke-width="0.68" />
<line x1="387.2" y1="416.21" x2="429.89" y2="415.73" stroke="#7f9dcd" stroke-width="0.36" />
<line x1="384.25" y1="417.82" x2="425.74" y2="417.22" stroke="#3a5585" stroke-width="0.68" />
<line x1="384.25" y1="418.43" x2="425.74" y2="417.83" stroke="#7f9dcd" stroke-width="0.36" />
<line x1="381.47" y1="422.09" x2="421.82" y2="421.45" stroke="#3a5585" stroke-width="0.7" />
<line x1="381.47" y1="422.73" x2="421.82" y2="422.08" stroke="#7f9dcd" stroke-width="0.42" />
<line x1="378.97" y1="428.27" x2="418.28" y2="427.63" stroke="#3a5585" stroke-width="0.95" />
<line x1="378.97" y1="429.12" x2="418.28" y2="428.48" stroke="#7f9dcd" stroke-width="0.57" />
<line x1="376.83" y1="436.11" x2="415.24" y2="435.55" stroke="#3a5585" stroke-width="1.15" />
<line x1="376.83" y1="437.15" x2="415.24" y2="436.58" stroke="#7f9dcd" stroke-width="0.69" />
<line x1="375.13" y1="445.34" x2="412.84" y2="444.89" stroke="#3a5585" stroke-width="1.31" />
<line x1="375.13" y1="446.52" x2="412.84" y2="446.07" stroke="#7f9dcd" stroke-width="0.79" />
<line x1="373.94" y1="455.61" x2="411.15" y2="455.31" stroke="#3a5585" stroke-width="1.43" />
<line x1="373.94" y1="456.89" x2="411.15" y2="456.6" stroke="#7f9dcd" stroke-width="0.86" />
<line x1="373.31" y1="466.53" x2="410.25" y2="466.41" stroke="#3a5585" stroke-width="1.49" />
<line x1="373.31" y1="467.87" x2="410.25" y2="467.76" stroke="#7f9dcd" stroke-width="0.89" />
<line x1="373.25" y1="477.7" x2="410.16" y2="477.78" stroke="#3a5585" stroke-width="1.5" />
<line x1="373.25" y1="479.05" x2="410.16" y2="479.12" stroke="#7f9dcd" stroke-width="0.9" />
<line x1="373.76" y1="488.71" x2="410.9" y2="488.97" stroke="#3a5585" stroke-width="1.45" />
<line x1="373.76" y1="490.02" x2="410.9" y2="490.27" stroke="#7f9dcd" stroke-width="0.87" />
<line x1="374.84" y1="499.15" x2="412.42" y2="499.57" stroke="#3a5585" stroke-width="1.34" />
<line x1="374.84" y1="500.36" x2="412.42" y2="500.78" stroke="#7f9dcd" stroke-width="0.81" />
<line x1="376.43" y1="508.63" x2="414.68" y2="509.18" stroke="#3a5585" stroke-width="1.19" />
<line x1="376.43" y1="509.7" x2="414.68" y2="510.25" stroke="#7f9dcd" stroke-width="0.71" />
<line x1="378.48" y1="516.8" x2="417.58" y2="517.42" stroke="#3a5585" stroke-width="0.99" />
<line x1="378.48" y1="517.69" x2="417.58" y2="518.32" stroke="#7f9dcd" stroke-width="0.6" />
<line x1="380.92" y1="523.35" x2="421.03" y2="524" stroke="#3a5585" stroke-width="0.76" />
<line x1="380.92" y1="524.03" x2="421.03" y2="524.68" stroke="#7f9dcd" stroke-width="0.45" />
<line x1="383.64" y1="528.04" x2="424.88" y2="528.65" stroke="#3a5585" stroke-width="0.68" />
<line x1="383.64" y1="528.65" x2="424.88" y2="529.26" stroke="#7f9dcd" stroke-width="0.36" />
<line x1="386.56" y1="530.7" x2="429" y2="531.21" stroke="#3a5585" stroke-width="0.68" />
<line x1="386.56" y1="531.31" x2="429" y2="531.82" stroke="#7f9dcd" stroke-width="0.36" />
</g>
<path d="M387.8,415.3 A15.6,58 0 0 0 387.8,531.3 A12,58 0 0 1 387.8,415.3 Z" fill="#48649a" stroke="none" stroke-width="1" opacity="0.7"/>
<ellipse cx="431.2" cy="473.3" rx="21.7" ry="58" fill="url(#par)" stroke="none" stroke-width="1" />
<ellipse cx="431.6" cy="473" rx="18.6" ry="51.5" fill="#5b79ab" stroke="none" stroke-width="1" />
<ellipse cx="431.8" cy="472.4" rx="16" ry="44.6" fill="url(#pai)" stroke="none" stroke-width="1" />
<ellipse cx="429.4" cy="476.6" rx="12.2" ry="36.4" fill="url(#paf)" stroke="none" stroke-width="1" />
<rect x="415.7" y="464" width="18" height="18.6" fill="url(#pah)" stroke="none" stroke-width="1" />
<ellipse cx="415.9" cy="473.3" rx="2.4" ry="9.3" fill="#4f6b9c" stroke="none" stroke-width="1" />
<path d="M432.3,456.7 L452.4,456.7 A3.7,16 0 0 1 452.4,488.8 L432.3,488.8 A3.7,16 0 0 1 432.3,456.7 Z" fill="url(#pah)" stroke="none" stroke-width="1" />
<ellipse cx="452.4" cy="472.8" rx="3.7" ry="16" fill="#6c8abb" stroke="none" stroke-width="1" />
<rect x="453" y="463.2" width="8.4" height="19.2" fill="url(#pah)" stroke="none" stroke-width="1" />
<ellipse cx="461.2" cy="472.8" rx="2.2" ry="9.6" fill="#7896c4" stroke="none" stroke-width="1" />
<rect x="459.4" y="465.2" width="33.6" height="15.4" fill="url(#pas)" stroke="none" stroke-width="1" />
<line x1="464" y1="467.4" x2="491" y2="467.4" stroke="#45608f" stroke-width="0.8" />
<line x1="464" y1="470" x2="491" y2="470" stroke="#45608f" stroke-width="0.8" />
<line x1="464" y1="472.6" x2="491" y2="472.6" stroke="#45608f" stroke-width="0.8" />
<line x1="464" y1="475.2" x2="491" y2="475.2" stroke="#45608f" stroke-width="0.8" />
<line x1="464" y1="477.8" x2="491" y2="477.8" stroke="#45608f" stroke-width="0.8" />
<line x1="459.6" y1="466.4" x2="464.6" y2="466.4" stroke="#f2f5fa" stroke-width="0.9" />
<line x1="459.6" y1="469" x2="464.6" y2="469" stroke="#f2f5fa" stroke-width="0.9" />
<line x1="459.6" y1="471.6" x2="464.6" y2="471.6" stroke="#f2f5fa" stroke-width="0.9" />
<line x1="459.6" y1="474.2" x2="464.6" y2="474.2" stroke="#f2f5fa" stroke-width="0.9" />
<line x1="459.6" y1="476.8" x2="464.6" y2="476.8" stroke="#f2f5fa" stroke-width="0.9" />
<line x1="459.6" y1="479.2" x2="464.6" y2="479.2" stroke="#f2f5fa" stroke-width="0.9" />
<rect x="491.3" y="466.4" width="11.4" height="13.2" fill="#b9c6dc" stroke="none" stroke-width="1" />
<line x1="492.3" y1="466.6" x2="493.7" y2="479.4" stroke="#4d6a9b" stroke-width="0.8" />
<line x1="493.7" y1="466.6" x2="492.3" y2="479.4" stroke="#f4f6fa" stroke-width="0.7" />
<line x1="494.6" y1="466.6" x2="496" y2="479.4" stroke="#4d6a9b" stroke-width="0.8" />
<line x1="496" y1="466.6" x2="494.6" y2="479.4" stroke="#f4f6fa" stroke-width="0.7" />
<line x1="496.9" y1="466.6" x2="498.3" y2="479.4" stroke="#4d6a9b" stroke-width="0.8" />
<line x1="498.3" y1="466.6" x2="496.9" y2="479.4" stroke="#f4f6fa" stroke-width="0.7" />
<line x1="499.2" y1="466.6" x2="500.6" y2="479.4" stroke="#4d6a9b" stroke-width="0.8" />
<line x1="500.6" y1="466.6" x2="499.2" y2="479.4" stroke="#f4f6fa" stroke-width="0.7" />
<line x1="501.5" y1="466.6" x2="502.9" y2="479.4" stroke="#4d6a9b" stroke-width="0.8" />
<line x1="502.9" y1="466.6" x2="501.5" y2="479.4" stroke="#f4f6fa" stroke-width="0.7" />
<rect x="502.7" y="467.2" width="6.6" height="11.4" fill="#5b79ab" stroke="none" stroke-width="1" />
<path d="M509,468.4 L516.4,468.4 A1.8,4 0 0 1 516.4,476.4 L509,476.4 Z" fill="#6a88b9" stroke="none" stroke-width="1" />
<ellipse cx="516.6" cy="472.4" rx="1.3" ry="3.2" fill="#c9d4e6" stroke="none" stroke-width="1" />
</g>
</g>
<line x1="538.9" y1="456.9" x2="459.4" y2="459.5" stroke="#000" stroke-width="1.15" />
<polygon points="459.4,459.5 465.36,458.1 465.44,460.5" fill="#000" stroke="#000" stroke-width="0.4" />
<circle cx="550.2" cy="456.9" r="11.5" fill="#fff" stroke="#000" stroke-width="1" shape-rendering="crispEdges"/>
<text x="550.2" y="460.5" font-family="Liberation Mono, sans-serif" font-size="7.6" fill="#000" text-anchor="middle" font-weight="normal" font-style="normal" transform="translate(550.2,460.5) scale(0.8,1.22) translate(-550.2,-460.5)">1</text>
<defs>
<linearGradient id="sg1" x1="0" y1="0" x2="0" y2="1"><stop offset="0" stop-color="#b6b6b6"/><stop offset="0.5" stop-color="#aeaeae"/><stop offset="1" stop-color="#a0a0a0"/></linearGradient>
<linearGradient id="sg2" x1="0" y1="0" x2="0" y2="1"><stop offset="0" stop-color="#a4a4a4"/><stop offset="1" stop-color="#828282"/></linearGradient>
<linearGradient id="sg3" x1="0" y1="0" x2="0" y2="1"><stop offset="0" stop-color="#7e7e7e"/><stop offset="0.5" stop-color="#6c6c6c"/><stop offset="1" stop-color="#787878"/></linearGradient>
<linearGradient id="sg4" x1="0" y1="0" x2="1" y2="0"><stop offset="0" stop-color="#a4a4a4"/><stop offset="1" stop-color="#929292"/></linearGradient>
</defs>
<g id="isosmall">
<path d="M747,140 L751,134 L762,132.6 L770,137 L773,148 L772,206 L766,228 L756,234 L738,233 L734,200 L740,160 Z" fill="#c9c9c9" stroke="none" stroke-width="1" />
<path d="M750,137 L760,135.4 L767,139.6 L768,150 L752,150 Z" fill="#a2a2a2" stroke="none" stroke-width="1" />
<path d="M753,140 L759,139 L763,143 L756,146 Z" fill="#e6e6e6" stroke="none" stroke-width="1" />
<path d="M700,152.6 L748,152.6 L748,172 L700,172 Z" fill="#b2b2b2" stroke="none" stroke-width="1" />
<path d="M669.7,166 C672,158 675,153.4 680,152.6 L746,153.4 L743,166 L736,178.6 L728,187 L715.6,189.6 L696,185.8 L666,187.4 C664,182 666,172 669.7,166 Z" fill="url(#sg1)" stroke="none" stroke-width="1" />
<path d="M696,176 L705,186.4 L716,189.6 L728,187 L737,177 L742,164 L734,172 L722,178 L708,178 Z" fill="#a2a2a2" stroke="none" stroke-width="1" />
<path d="M703,184.6 L716,188.6 L728,186 L737,176" fill="none" stroke="#c9c9c9" stroke-width="1.6" />
<path d="M716,190 L729,187.4 L738,178 L741,198 L727,206 L722,196 Z" fill="#7e7e7e" stroke="none" stroke-width="1" />
<path d="M694,170 L700,182" fill="none" stroke="#d6d6d6" stroke-width="1.4" />
<path d="M664.6,187.6 L696,186 L715.6,190 L722,196 L727,206 L669.6,204.4 L664,198 Z" fill="url(#sg2)" stroke="none" stroke-width="1" />
<line x1="668" y1="204.8" x2="727" y2="206.2" stroke="#f0f0f0" stroke-width="1.1" />
<ellipse cx="693" cy="161.4" rx="3" ry="2" fill="#d8d8d8" stroke="none" stroke-width="1" />
<path d="M686,150.6 L690,148 L694,150 L690,158 L684,164 Z" fill="#cfcfcf" stroke="none" stroke-width="1" />
<path d="M719,170 C721,166 726,165 728,168" fill="none" stroke="#f2f2f2" stroke-width="1.6" />
<path d="M728,168 L733,161 M735,160 L737,170" fill="none" stroke="#e8e8e8" stroke-width="1.4" />
<path d="M693,190 C694,186 699,185 701,188" fill="none" stroke="#e4e4e4" stroke-width="1.3" />
<line x1="721.6" y1="158.2" x2="726.4" y2="158.2" stroke="#2d2f8c" stroke-width="0.9" />
<ellipse cx="666.4" cy="197.4" rx="2.2" ry="2.6" fill="#2b2f86" stroke="none" stroke-width="1" />
<ellipse cx="666.4" cy="197" rx="1.2" ry="1" fill="#c9cce6" stroke="none" stroke-width="1" />
<ellipse cx="700.4" cy="197.4" rx="2.2" ry="2.6" fill="#2b2f86" stroke="none" stroke-width="1" />
<ellipse cx="700.4" cy="197" rx="1.2" ry="1" fill="#c9cce6" stroke="none" stroke-width="1" />
<path d="M670,205 L727,206.6 L737,228 L729,233.6 L684,233.6 L675,228 Z" fill="url(#sg3)" stroke="none" stroke-width="1" />
<path d="M684,209 L726,210 L732,224 L690,226 Z" fill="#686868" stroke="none" stroke-width="1" />
<path d="M663.6,199 L670,205 L674,221 L681.6,231 L681,236.4 L671.6,233.6 L664.4,221 Z" fill="url(#sg4)" stroke="none" stroke-width="1" />
<path d="M663.4,182 L666,188 L664.4,199 L663,196 Z" fill="#b0b0b0" stroke="none" stroke-width="1" />
<path d="M684,230 L730,228 L733,233 L700,236 Z" fill="#808080" stroke="none" stroke-width="1" />
<line x1="682" y1="228.6" x2="706" y2="227.4" stroke="#f4f4f4" stroke-width="1" />
<path d="M719,233 L722,240 L724.6,240 L722.6,233 Z" fill="#a8a8a8" stroke="none" stroke-width="1" />
<path d="M737,233 L739.6,239.6 L742,239.6 L740,233 Z" fill="#a8a8a8" stroke="none" stroke-width="1" />
<path d="M727,190 L738,180 L748,178 L756,190 L758,214 L754,230 L740,232 L733,222 Z" fill="#bcbcbc" stroke="none" stroke-width="1" />
<path d="M731,196 L738,190 L742,200 L738,214 L733,212 Z" fill="#909090" stroke="none" stroke-width="1" />
<path d="M741,186 L747,183 L752,192 L747,198 L742,196 Z" fill="#e2e2e2" stroke="none" stroke-width="1" />
<path d="M742,204 L752,202 L754,216 L746,220 Z" fill="#d9d9d9" stroke="none" stroke-width="1" />
<path d="M736,218 L744,222 L750,228 L740,230 Z" fill="#8c8c8c" stroke="none" stroke-width="1" />
<path d="M748,222 L756,219 L755,228 L749,229 Z" fill="#ededed" stroke="none" stroke-width="1" />
<line x1="737.4" y1="178" x2="742" y2="186" stroke="#f5f5f5" stroke-width="1.2" />
<ellipse cx="757.4" cy="184" rx="3.4" ry="31" fill="#4c4c4c" stroke="none" stroke-width="1" />
</g>
<g transform="translate(531.04,-99.13) scale(0.6)">
<defs>
<linearGradient id="pbb" x1="0" y1="0" x2="0" y2="1"><stop offset="0" stop-color="#4d6a9b"/><stop offset="0.12" stop-color="#6a89bc"/><stop offset="0.5" stop-color="#6f8dc0"/><stop offset="0.85" stop-color="#5b7aad"/><stop offset="1" stop-color="#415d8e"/></linearGradient>
<linearGradient id="pbr" x1="0" y1="0" x2="1" y2="1"><stop offset="0" stop-color="#6f8fc2"/><stop offset="0.5" stop-color="#5c7bad"/><stop offset="1" stop-color="#48659a"/></linearGradient>
<linearGradient id="pbi" x1="0" y1="0" x2="0.6" y2="1"><stop offset="0" stop-color="#3f5a8c"/><stop offset="0.45" stop-color="#56739f"/><stop offset="1" stop-color="#6f8dbd"/></linearGradient>
<linearGradient id="pbf" x1="0" y1="0" x2="0.3" y2="1"><stop offset="0" stop-color="#506d9f"/><stop offset="0.5" stop-color="#6c8abb"/><stop offset="1" stop-color="#7b98c6"/></linearGradient>
<linearGradient id="pbh" x1="0" y1="0" x2="0" y2="1"><stop offset="0" stop-color="#7d9ccc"/><stop offset="0.35" stop-color="#6583b5"/><stop offset="1" stop-color="#435f93"/></linearGradient>
<linearGradient id="pbs" x1="0" y1="0" x2="0" y2="1"><stop offset="0" stop-color="#8aa6d0"/><stop offset="0.4" stop-color="#6a86b4"/><stop offset="1" stop-color="#4a6595"/></linearGradient>
<clipPath id="pbc"><path d="M387.8,415.3 L431.2,415.3 L431.2,531.3 L387.8,531.3 A15.6,58 0 0 1 387.8,415.3 Z"/></clipPath>
</defs>
<path d="M387.8,415.3 L431.2,415.3 L431.2,531.3 L387.8,531.3 A15.6,58 0 0 1 387.8,415.3 Z" fill="url(#pbb)" stroke="none" stroke-width="1" />
<g clip-path="url(#pbc)">
<line x1="387.2" y1="415.61" x2="429.89" y2="415.13" stroke="#3a5585" stroke-width="0.68" />
<line x1="387.2" y1="416.21" x2="429.89" y2="415.73" stroke="#7f9dcd" stroke-width="0.36" />
<line x1="384.25" y1="417.82" x2="425.74" y2="417.22" stroke="#3a5585" stroke-width="0.68" />
<line x1="384.25" y1="418.43" x2="425.74" y2="417.83" stroke="#7f9dcd" stroke-width="0.36" />
<line x1="381.47" y1="422.09" x2="421.82" y2="421.45" stroke="#3a5585" stroke-width="0.7" />
<line x1="381.47" y1="422.73" x2="421.82" y2="422.08" stroke="#7f9dcd" stroke-width="0.42" />
<line x1="378.97" y1="428.27" x2="418.28" y2="427.63" stroke="#3a5585" stroke-width="0.95" />
<line x1="378.97" y1="429.12" x2="418.28" y2="428.48" stroke="#7f9dcd" stroke-width="0.57" />
<line x1="376.83" y1="436.11" x2="415.24" y2="435.55" stroke="#3a5585" stroke-width="1.15" />
<line x1="376.83" y1="437.15" x2="415.24" y2="436.58" stroke="#7f9dcd" stroke-width="0.69" />
<line x1="375.13" y1="445.34" x2="412.84" y2="444.89" stroke="#3a5585" stroke-width="1.31" />
<line x1="375.13" y1="446.52" x2="412.84" y2="446.07" stroke="#7f9dcd" stroke-width="0.79" />
<line x1="373.94" y1="455.61" x2="411.15" y2="455.31" stroke="#3a5585" stroke-width="1.43" />
<line x1="373.94" y1="456.89" x2="411.15" y2="456.6" stroke="#7f9dcd" stroke-width="0.86" />
<line x1="373.31" y1="466.53" x2="410.25" y2="466.41" stroke="#3a5585" stroke-width="1.49" />
<line x1="373.31" y1="467.87" x2="410.25" y2="467.76" stroke="#7f9dcd" stroke-width="0.89" />
<line x1="373.25" y1="477.7" x2="410.16" y2="477.78" stroke="#3a5585" stroke-width="1.5" />
<line x1="373.25" y1="479.05" x2="410.16" y2="479.12" stroke="#7f9dcd" stroke-width="0.9" />
<line x1="373.76" y1="488.71" x2="410.9" y2="488.97" stroke="#3a5585" stroke-width="1.45" />
<line x1="373.76" y1="490.02" x2="410.9" y2="490.27" stroke="#7f9dcd" stroke-width="0.87" />
<line x1="374.84" y1="499.15" x2="412.42" y2="499.57" stroke="#3a5585" stroke-width="1.34" />
<line x1="374.84" y1="500.36" x2="412.42" y2="500.78" stroke="#7f9dcd" stroke-width="0.81" />
<line x1="376.43" y1="508.63" x2="414.68" y2="509.18" stroke="#3a5585" stroke-width="1.19" />
<line x1="376.43" y1="509.7" x2="414.68" y2="510.25" stroke="#7f9dcd" stroke-width="0.71" />
<line x1="378.48" y1="516.8" x2="417.58" y2="517.42" stroke="#3a5585" stroke-width="0.99" />
<line x1="378.48" y1="517.69" x2="417.58" y2="518.32" stroke="#7f9dcd" stroke-width="0.6" />
<line x1="380.92" y1="523.35" x2="421.03" y2="524" stroke="#3a5585" stroke-width="0.76" />
<line x1="380.92" y1="524.03" x2="421.03" y2="524.68" stroke="#7f9dcd" stroke-width="0.45" />
<line x1="383.64" y1="528.04" x2="424.88" y2="528.65" stroke="#3a5585" stroke-width="0.68" />
<line x1="383.64" y1="528.65" x2="424.88" y2="529.26" stroke="#7f9dcd" stroke-width="0.36" />
<line x1="386.56" y1="530.7" x2="429" y2="531.21" stroke="#3a5585" stroke-width="0.68" />
<line x1="386.56" y1="531.31" x2="429" y2="531.82" stroke="#7f9dcd" stroke-width="0.36" />
</g>
<path d="M387.8,415.3 A15.6,58 0 0 0 387.8,531.3 A12,58 0 0 1 387.8,415.3 Z" fill="#48649a" stroke="none" stroke-width="1" opacity="0.7"/>
<ellipse cx="431.2" cy="473.3" rx="21.7" ry="58" fill="url(#pbr)" stroke="none" stroke-width="1" />
<ellipse cx="431.6" cy="473" rx="18.6" ry="51.5" fill="#5b79ab" stroke="none" stroke-width="1" />
<ellipse cx="431.8" cy="472.4" rx="16" ry="44.6" fill="url(#pbi)" stroke="none" stroke-width="1" />
<ellipse cx="429.4" cy="476.6" rx="12.2" ry="36.4" fill="url(#pbf)" stroke="none" stroke-width="1" />
<rect x="415.7" y="464" width="18" height="18.6" fill="url(#pbh)" stroke="none" stroke-width="1" />
<ellipse cx="415.9" cy="473.3" rx="2.4" ry="9.3" fill="#4f6b9c" stroke="none" stroke-width="1" />
<path d="M432.3,456.7 L452.4,456.7 A3.7,16 0 0 1 452.4,488.8 L432.3,488.8 A3.7,16 0 0 1 432.3,456.7 Z" fill="url(#pbh)" stroke="none" stroke-width="1" />
<ellipse cx="452.4" cy="472.8" rx="3.7" ry="16" fill="#6c8abb" stroke="none" stroke-width="1" />
<rect x="453" y="463.2" width="8.4" height="19.2" fill="url(#pbh)" stroke="none" stroke-width="1" />
<ellipse cx="461.2" cy="472.8" rx="2.2" ry="9.6" fill="#7896c4" stroke="none" stroke-width="1" />
<rect x="459.4" y="465.2" width="33.6" height="15.4" fill="url(#pbs)" stroke="none" stroke-width="1" />
<line x1="464" y1="467.4" x2="491" y2="467.4" stroke="#45608f" stroke-width="0.8" />
<line x1="464" y1="470" x2="491" y2="470" stroke="#45608f" stroke-width="0.8" />
<line x1="464" y1="472.6" x2="491" y2="472.6" stroke="#45608f" stroke-width="0.8" />
<line x1="464" y1="475.2" x2="491" y2="475.2" stroke="#45608f" stroke-width="0.8" />
<line x1="464" y1="477.8" x2="491" y2="477.8" stroke="#45608f" stroke-width="0.8" />
<line x1="459.6" y1="466.4" x2="464.6" y2="466.4" stroke="#f2f5fa" stroke-width="0.9" />
<line x1="459.6" y1="469" x2="464.6" y2="469" stroke="#f2f5fa" stroke-width="0.9" />
<line x1="459.6" y1="471.6" x2="464.6" y2="471.6" stroke="#f2f5fa" stroke-width="0.9" />
<line x1="459.6" y1="474.2" x2="464.6" y2="474.2" stroke="#f2f5fa" stroke-width="0.9" />
<line x1="459.6" y1="476.8" x2="464.6" y2="476.8" stroke="#f2f5fa" stroke-width="0.9" />
<line x1="459.6" y1="479.2" x2="464.6" y2="479.2" stroke="#f2f5fa" stroke-width="0.9" />
<rect x="491.3" y="466.4" width="11.4" height="13.2" fill="#b9c6dc" stroke="none" stroke-width="1" />
<line x1="492.3" y1="466.6" x2="493.7" y2="479.4" stroke="#4d6a9b" stroke-width="0.8" />
<line x1="493.7" y1="466.6" x2="492.3" y2="479.4" stroke="#f4f6fa" stroke-width="0.7" />
<line x1="494.6" y1="466.6" x2="496" y2="479.4" stroke="#4d6a9b" stroke-width="0.8" />
<line x1="496" y1="466.6" x2="494.6" y2="479.4" stroke="#f4f6fa" stroke-width="0.7" />
<line x1="496.9" y1="466.6" x2="498.3" y2="479.4" stroke="#4d6a9b" stroke-width="0.8" />
<line x1="498.3" y1="466.6" x2="496.9" y2="479.4" stroke="#f4f6fa" stroke-width="0.7" />
<line x1="499.2" y1="466.6" x2="500.6" y2="479.4" stroke="#4d6a9b" stroke-width="0.8" />
<line x1="500.6" y1="466.6" x2="499.2" y2="479.4" stroke="#f4f6fa" stroke-width="0.7" />
<line x1="501.5" y1="466.6" x2="502.9" y2="479.4" stroke="#4d6a9b" stroke-width="0.8" />
<line x1="502.9" y1="466.6" x2="501.5" y2="479.4" stroke="#f4f6fa" stroke-width="0.7" />
<rect x="502.7" y="467.2" width="6.6" height="11.4" fill="#5b79ab" stroke="none" stroke-width="1" />
<path d="M509,468.4 L516.4,468.4 A1.8,4 0 0 1 516.4,476.4 L509,476.4 Z" fill="#6a88b9" stroke="none" stroke-width="1" />
<ellipse cx="516.6" cy="472.4" rx="1.3" ry="3.2" fill="#c9d4e6" stroke="none" stroke-width="1" />
</g>
<defs>
<linearGradient id="bg1" x1="0" y1="0" x2="0" y2="1"><stop offset="0" stop-color="#a2a2a2"/><stop offset="0.55" stop-color="#ababab"/><stop offset="1" stop-color="#bbbbbb"/></linearGradient>
<linearGradient id="bg2" x1="0" y1="0" x2="0" y2="1"><stop offset="0" stop-color="#767676"/><stop offset="1" stop-color="#8c8c8c"/></linearGradient>
<linearGradient id="bg3" x1="0" y1="0" x2="0.25" y2="1"><stop offset="0" stop-color="#a8a8a8"/><stop offset="0.7" stop-color="#9e9e9e"/><stop offset="1" stop-color="#a4a4a4"/></linearGradient>
<linearGradient id="bg4" x1="0" y1="0" x2="0" y2="1"><stop offset="0" stop-color="#747474"/><stop offset="0.5" stop-color="#646464"/><stop offset="1" stop-color="#707070"/></linearGradient>
<linearGradient id="bg5" x1="0" y1="0" x2="1" y2="0"><stop offset="0" stop-color="#8a8a8a"/><stop offset="0.5" stop-color="#a8a8a8"/><stop offset="1" stop-color="#8e8e8e"/></linearGradient>
<linearGradient id="bg6" x1="0" y1="0" x2="0" y2="1"><stop offset="0" stop-color="#bcbcbc"/><stop offset="0.5" stop-color="#9a9a9a"/><stop offset="1" stop-color="#6e6e6e"/></linearGradient>
<linearGradient id="bg7" x1="0" y1="0" x2="1" y2="0.3"><stop offset="0" stop-color="#d4d4d4"/><stop offset="1" stop-color="#b4b4b4"/></linearGradient>
<linearGradient id="bg8" x1="0" y1="0" x2="1" y2="0"><stop offset="0" stop-color="#8a8a8a"/><stop offset="0.45" stop-color="#bdbdbd"/><stop offset="1" stop-color="#8e8e8e"/></linearGradient>
<linearGradient id="bg9" x1="0" y1="0" x2="0" y2="1"><stop offset="0" stop-color="#dedede"/><stop offset="1" stop-color="#d2d2d2"/></linearGradient>
</defs>
<g id="isobig">
<path d="M139.6,454.5 L131.7,466.4 L125,487.5 L122.2,497 L121,527 L126.4,551 L139.6,561.6 L160.7,560.2 L168.6,553.5 L168,520 L146,500 Z" fill="url(#bg5)" stroke="none" stroke-width="1" />
<path d="M131,509 L240.6,513.6 L244.5,527 L243,547 L231.6,552.6 L205,556.4 L168,554 L150,545 L139,525 Z" fill="url(#bg4)" stroke="none" stroke-width="1" />
<path d="M150,537.6 L205.5,540.2 L205.5,544 L150,541.8 Z" fill="#909090" stroke="none" stroke-width="1" />
<path d="M203,540 L228,538 L232,551 L207,556 Z" fill="#787878" stroke="none" stroke-width="1" />
<path d="M200.6,538.4 L224,539.6" fill="none" stroke="#f2f2f2" stroke-width="1.1" />
<path d="M139.6,521 L141,532 M148.6,536 L150.6,546" fill="none" stroke="#f0f0f0" stroke-width="1.2" />
<path d="M122,500 C120,520 121,540 128,553 C134,561 148,564 160,560 C166,557 168,553 166,548 C152,548 142,540 138,524 L133,508 Z" fill="url(#bg8)" stroke="none" stroke-width="1" />
<path d="M217.6,551 L221.6,564.4 L225.4,564.4 L222.6,551 Z" fill="#a6a6a6" stroke="none" stroke-width="1" />
<path d="M247.6,556 L251.8,566.4 L255.8,566.4 L252,555 Z" fill="#a6a6a6" stroke="none" stroke-width="1" />
<path d="M212,420.4 L266,421.2 L263,432 L255.6,438.6 L206,438.4 Z" fill="#a4a4a4" stroke="none" stroke-width="1" />
<path d="M139.6,454.5 L178,455 L196.7,457 L206,444 L210,438.2 L255.6,438.4 L253.9,452.2 L258.3,465 L244,473.4 L240.4,484 L240.6,514.4 L133,510.8 L127.6,502 Z" fill="url(#bg9)" stroke="none" stroke-width="1" />
<ellipse cx="225.5" cy="439.6" rx="1.8" ry="1.3" fill="#7c7c7c" stroke="none" stroke-width="1" />
<ellipse cx="131.6" cy="501.6" rx="1.8" ry="1.3" fill="#7c7c7c" stroke="none" stroke-width="1" />
<ellipse cx="189" cy="503.6" rx="1.8" ry="1.3" fill="#7c7c7c" stroke="none" stroke-width="1" />
<ellipse cx="235.8" cy="477.9" rx="1.8" ry="1.3" fill="#7c7c7c" stroke="none" stroke-width="1" />
<path d="M267.6,390.3 L272.8,388.4 L291.7,387.7 L300.3,398.9 L309.7,421.2 L310.8,434 L306,466 L300.5,493 L290,527 L282,551 L268.9,553.6 L243.8,545.5 L243.8,527 L238.5,496.7 L241.2,477 L258.3,463.7 L253.9,452.2 L255.6,438.4 L264.2,419.5 L265,402.3 Z" fill="url(#bg7)" stroke="none" stroke-width="1" />
<path d="M268,392 L273,390 L272,404 L267,407 Z" fill="#8e8e8e" stroke="none" stroke-width="1" />
<path d="M281,398 L289,397 L289,405 L282,406 Z" fill="#8a8a8a" stroke="none" stroke-width="1" />
<path d="M277,404 L285,403 L283.5,433 L277.6,434 Z" fill="#d2d2d2" stroke="none" stroke-width="1" />
<path d="M290,407 L297,405 L301,412 L291,416 Z" fill="#9a9a9a" stroke="none" stroke-width="1" />
<path d="M303,419 L308,422 L308,434 L302,431 Z" fill="#8c8c8c" stroke="none" stroke-width="1" />
<path d="M297,432 L303,430 L302,452 L297,450 Z" fill="#a0a0a0" stroke="none" stroke-width="1" />
<path d="M264,421 L277,419.6 L277,434 L262,436 Z" fill="#9c9c9c" stroke="none" stroke-width="1" />
<path d="M255,440 L262,436 L262,452 L254,452 Z" fill="#8a8a8a" stroke="none" stroke-width="1" />
<path d="M266,420 L266,434.6 L277,434 M268,421 L284,419" fill="none" stroke="#f4f4f4" stroke-width="1.2" />
<path d="M300.6,426 L304.6,436" fill="none" stroke="#fafafa" stroke-width="1.6" />
<path d="M292,392 L294,396 M298,410 L300,414 M305,420 L307,424" fill="none" stroke="#777" stroke-width="1.4" />
<path d="M244,476 L256,474 L258.4,480 L258.4,524 L250,528 L244,524 C241,512 241,490 244,476 Z" fill="url(#bg8)" stroke="none" stroke-width="1" />
<ellipse cx="252.6" cy="481.6" rx="2.4" ry="4.6" fill="#e4e4e4" stroke="none" stroke-width="1" />
<ellipse cx="251" cy="488" rx="1.6" ry="2" fill="#7a7a7a" stroke="none" stroke-width="1" />
<path d="M258,500 L270,498 L276,506 L272,522 L262,524 Z" fill="#a8a8a8" stroke="none" stroke-width="1" />
<path d="M262,506 L268,504 L269,514 L263,516 Z" fill="#e8e8e8" stroke="none" stroke-width="1" />
<path d="M268,524 L276,520 L280,530 L272,540 Z" fill="#9a9a9a" stroke="none" stroke-width="1" />
<path d="M272,528 L276,526 L276,534 L272,536 Z" fill="#f0f0f0" stroke="none" stroke-width="1" />
<path d="M246,530 L262,526 L268,546 L250,546 Z" fill="#8c8c8c" stroke="none" stroke-width="1" />
<path d="M252,534 L258,532 L258,540 Z" fill="#e6e6e6" stroke="none" stroke-width="1" />
<path d="M281,516 L286,514 L284,524 L280,526 Z" fill="#f2f2f2" stroke="none" stroke-width="1" />
<ellipse cx="280.4" cy="471" rx="11.4" ry="31" fill="#5a5a5a" stroke="none" stroke-width="1" />
<ellipse cx="281.6" cy="471" rx="9.4" ry="27.6" fill="#2a2a2a" stroke="none" stroke-width="1" />
<path d="M281,449.8 L295,449.8 L295,491.4 L281,493 A8.4,21.6 0 0 1 281,449.8 Z" fill="url(#bg6)" stroke="none" stroke-width="1" />
<ellipse cx="295" cy="470.6" rx="10.2" ry="20.8" fill="#8a8a8a" stroke="none" stroke-width="1" />
<path d="M99,446 L172,447 L178.6,458.4 L196.7,457 L198,459.6 L180,461.4 L104,456.4 Z" fill="#bdbdbd" stroke="none" stroke-width="1" />
<path d="M112.5,380.6 L136,378.4 L161,379 L156,404.8 L162,420 L168,434.4 L98,434.4 C96.6,428 97,424 97.9,420.3 C100,402 104,388 112.5,380.6 Z" fill="url(#bg1)" stroke="none" stroke-width="1" />
<path d="M112.5,380.6 C104,388 99.6,402 97.4,420.3 L97,433 L100,448 L103,448 L100.4,432 C101,414 105,394 114,382 Z" fill="#c4c4c4" stroke="none" stroke-width="1" />
<path d="M98.6,434 L168,434 L174,448 L101,447.4 Z" fill="url(#bg2)" stroke="none" stroke-width="1" />
<path d="M131,389.4 L141,378.6 L158.9,379 L156,389.8 Z" fill="#929292" stroke="none" stroke-width="1" />
<path d="M131,389.6 L147,389.6" fill="none" stroke="#d8d8d8" stroke-width="0.9" />
<path d="M158.9,379 L208.7,378.7 Q212.6,379.6 213.4,383 L215.4,396 L212.1,423.7 L205.3,444.3 L196.7,456.6 L178.6,458.2 L170.9,447.8 L160,420 L153.7,404.8 Z" fill="url(#bg3)" stroke="none" stroke-width="1" />
<path d="M166.6,432.6 L188.4,432.6 L197,425.4 L210,401 L214,392 L212.1,423.7 L205.3,444.3 L196.7,456.4 L178.6,458.1 L170.9,447.8 Z" fill="url(#bg2)" stroke="none" stroke-width="1" />
<path d="M165,431 L188,431 Q193,430 196.4,424 L208.4,400" fill="none" stroke="#bebebe" stroke-width="3.2" stroke-linejoin="round" opacity="0.9"/>
<path d="M171,448.4 L178.8,459 L197,457.6 L205.8,445 L212.4,425" fill="none" stroke="#c9c9c9" stroke-width="1.8" />
<path d="M212,381 L219.6,380 L222.6,384 L223,398 L217,402.6 L213.6,398 Z" fill="#c2c2c2" stroke="none" stroke-width="1" />
<path d="M216,383.6 L220,383 L220.6,396 L217,398 Z" fill="#9a9a9a" stroke="none" stroke-width="1" />
<path d="M206,392 L211,384 M210.6,400 L214,392" fill="none" stroke="#f2f2f2" stroke-width="1.6" />
<circle cx="199.4" cy="402.4" r="3.9" fill="#a8a8a8" stroke="#f4f4f4" stroke-width="1.8" />
<circle cx="198.8" cy="402.8" r="1.5" fill="#6e6e6e" stroke="none" stroke-width="1" />
<path d="M195,409 L198,412" fill="none" stroke="#f0f0f0" stroke-width="1.2" />
<rect x="145.2" y="379.4" width="7.6" height="8.8" fill="#e6e6e6" stroke="none" stroke-width="1" rx="1.2"/>
<rect x="146.4" y="386.4" width="5.2" height="2.6" fill="#f6f6f6" stroke="none" stroke-width="1" />
<rect x="147.4" y="374.2" width="2.6" height="5.4" fill="#d9b23a" stroke="none" stroke-width="1" />
<path d="M118,367.4 L121.4,373 L126.1,376.2 L128.6,371.4 L123.2,365.9 Z" fill="#3f4a66" stroke="none" stroke-width="1" />
<path d="M121.2,371 L121.4,375.4 L126.2,376.6 L129,372 L127.6,369 Z" fill="#1c2470" stroke="none" stroke-width="1" />
<ellipse cx="120.2" cy="365.4" rx="3.4" ry="3.7" fill="#e9ecf2" stroke="#5a6478" stroke-width="0.8" />
<path d="M118.6,366.2 C119.2,363.8 121.8,363.6 122.2,365.8" fill="none" stroke="#7b8496" stroke-width="0.8" />
<path d="M187.6,367.4 L191.2,373.6 L195.9,376.8 L198.4,372 L192.8,365.9 Z" fill="#3f4a66" stroke="none" stroke-width="1" />
<path d="M191,371.6 L191.2,376 L196,377.2 L198.8,372.6 L197.4,369.6 Z" fill="#1c2470" stroke="none" stroke-width="1" />
<ellipse cx="189.8" cy="365.4" rx="3.4" ry="3.7" fill="#e9ecf2" stroke="#5a6478" stroke-width="0.8" />
<path d="M188.2,366.2 C188.8,363.8 191.4,363.6 191.8,365.8" fill="none" stroke="#7b8496" stroke-width="0.8" />
<path d="M92.4,431.2 L94.8,438.4 L99.5,441.6 L102,436.8 L97.6,429.7 Z" fill="#3f4a66" stroke="none" stroke-width="1" />
<path d="M94.6,436.4 L94.8,440.8 L99.6,442 L102.4,437.4 L101,434.4 Z" fill="#1c2470" stroke="none" stroke-width="1" />
<ellipse cx="94.6" cy="429.2" rx="3.4" ry="3.7" fill="#e9ecf2" stroke="#5a6478" stroke-width="0.8" />
<path d="M93,430 C93.6,427.6 96.2,427.4 96.6,429.6" fill="none" stroke="#7b8496" stroke-width="0.8" />
<path d="M148.6,428 L153,423.4 L158.6,427 L163,441 L156.6,444 Z" fill="#4c5870" stroke="none" stroke-width="1" />
<path d="M150,426.6 C151,424 154,423 156.4,424.6" fill="none" stroke="#9aa6ba" stroke-width="1.3" />
<path d="M154,437.6 L162.6,435 L163.6,441.6 L157,444.6 Z" fill="#1c2470" stroke="none" stroke-width="1" />
<path d="M157,446.4 L164,444" fill="none" stroke="#e9e9f2" stroke-width="1.2" />
<path d="M96.6,444.6 L103,443.4" fill="none" stroke="#e9e9f2" stroke-width="1.2" />
</g>
<line x1="62.4" y1="339.2" x2="95.4" y2="427.6" stroke="#000" stroke-width="1.15" />
<polygon points="95.4,427.6 92.18,422.4 94.43,421.56" fill="#000" stroke="#000" stroke-width="0.4" />
<line x1="119.4" y1="338.6" x2="143.8" y2="379.4" stroke="#000" stroke-width="1.15" />
<polygon points="143.8,379.4 139.69,374.87 141.75,373.63" fill="#000" stroke="#000" stroke-width="0.4" />
<line x1="68.8" y1="437.4" x2="94.4" y2="440" stroke="#000" stroke-width="1.15" />
<polygon points="94.4,440 88.81,440.64 89.05,438.25" fill="#000" stroke="#000" stroke-width="0.4" />
<line x1="223.9" y1="587.2" x2="223.9" y2="566" stroke="#000" stroke-width="1.15" />
<polygon points="223.9,566 225.1,572 222.7,572" fill="#000" stroke="#000" stroke-width="0.4" />
<circle cx="57.5" cy="328.9" r="11.5" fill="#fff" stroke="#000" stroke-width="1" shape-rendering="crispEdges"/>
<text x="57.5" y="332.5" font-family="Liberation Mono, sans-serif" font-size="7.6" fill="#000" text-anchor="middle" font-weight="normal" font-style="normal" transform="translate(57.5,332.5) scale(0.8,1.22) translate(-57.5,-332.5)">2</text>
<circle cx="113" cy="328.9" r="11.5" fill="#fff" stroke="#000" stroke-width="1" shape-rendering="crispEdges"/>
<text x="113" y="332.5" font-family="Liberation Mono, sans-serif" font-size="7.6" fill="#000" text-anchor="middle" font-weight="normal" font-style="normal" transform="translate(113,332.5) scale(0.8,1.22) translate(-113,-332.5)">4</text>
<circle cx="57.5" cy="436.2" r="11.5" fill="#fff" stroke="#000" stroke-width="1" shape-rendering="crispEdges"/>
<text x="57.5" y="439.8" font-family="Liberation Mono, sans-serif" font-size="7.6" fill="#000" text-anchor="middle" font-weight="normal" font-style="normal" transform="translate(57.5,439.8) scale(0.8,1.22) translate(-57.5,-439.8)">5</text>
<circle cx="223.9" cy="598.6" r="11.5" fill="#fff" stroke="#000" stroke-width="1" shape-rendering="crispEdges"/>
<text x="223.9" y="602.2" font-family="Liberation Mono, sans-serif" font-size="7.6" fill="#000" text-anchor="middle" font-weight="normal" font-style="normal" transform="translate(223.9,602.2) scale(0.8,1.22) translate(-223.9,-602.2)">3</text>
</svg>
</body></html>
